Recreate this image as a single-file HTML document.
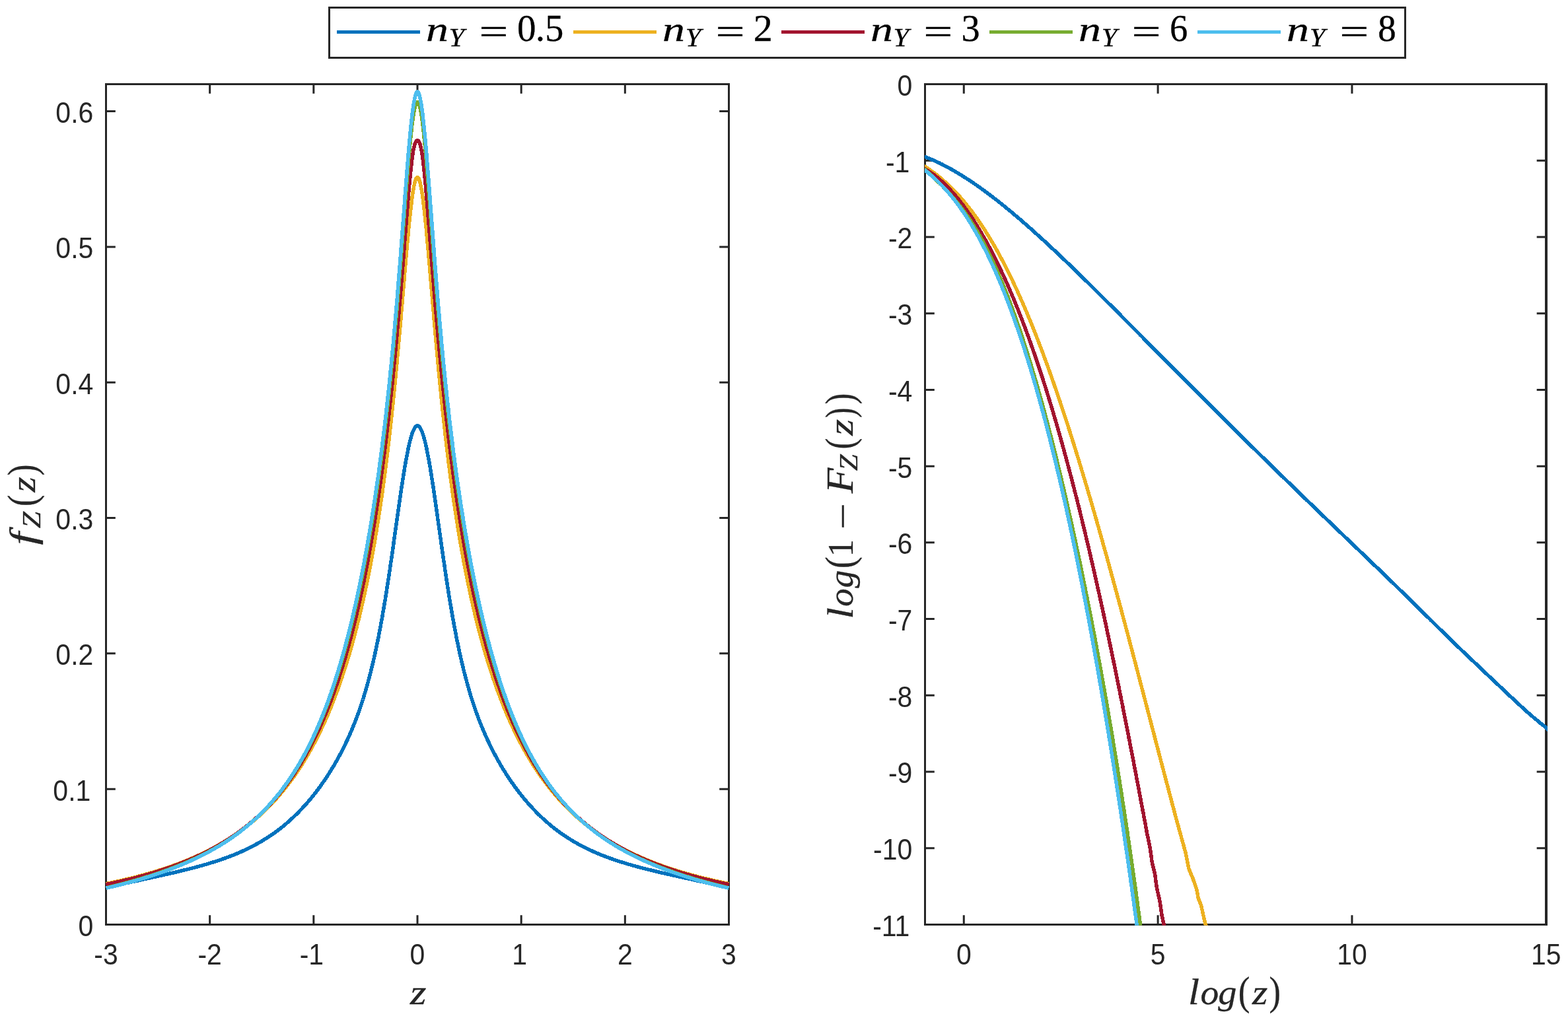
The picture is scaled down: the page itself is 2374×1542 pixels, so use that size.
<!DOCTYPE html>
<html lang="en"><head><meta charset="utf-8"><title>Figure</title>
<style>html,body{margin:0;padding:0;background:#fff}svg{display:block}text{font-family:"Liberation Sans",sans-serif;fill:#262626}.m{font-family:"Liberation Serif",serif;fill:#000}</style></head>
<body>
<svg xmlns="http://www.w3.org/2000/svg" width="2374" height="1542" viewBox="0 0 2374 1542">
<rect width="2374" height="1542" fill="#fff"/>
<g stroke="#262626" stroke-width="3" fill="none" stroke-linecap="butt">
<path d="M160.5 126.0V1402.0M159.0 127.5H1105.0M159.0 1400.5H1105.0"/>
<path d="M1103.5 126.0V1402.0" stroke-width="3"/>
<path d="M317.67 1400.5v-14.3M317.67 127.5v14.3M474.83 1400.5v-14.3M474.83 127.5v14.3M632.00 1400.5v-14.3M632.00 127.5v14.3M789.17 1400.5v-14.3M789.17 127.5v14.3M946.33 1400.5v-14.3M946.33 127.5v14.3M160.5 1195.18h14.3M1103.5 1195.18h-14.3M160.5 989.85h14.3M1103.5 989.85h-14.3M160.5 784.53h14.3M1103.5 784.53h-14.3M160.5 579.21h14.3M1103.5 579.21h-14.3M160.5 373.89h14.3M1103.5 373.89h-14.3M160.5 168.56h14.3M1103.5 168.56h-14.3"/>
</g>
<g stroke="#262626" stroke-width="3" fill="none" stroke-linecap="butt">
<path d="M1400.5 126.0V1402.0M1399.0 127.5H2343.0M1399.0 1400.5H2343.0"/>
<path d="M2341.0 126.0V1402.0" stroke-width="4"/>
<path d="M1459.27 1400.5v-14.3M1459.27 127.5v14.3M1753.11 1400.5v-14.3M1753.11 127.5v14.3M2046.96 1400.5v-14.3M2046.96 127.5v14.3M1400.5 243.23h14.3M2341.0 243.23h-14.3M1400.5 358.95h14.3M2341.0 358.95h-14.3M1400.5 474.68h14.3M2341.0 474.68h-14.3M1400.5 590.41h14.3M2341.0 590.41h-14.3M1400.5 706.14h14.3M2341.0 706.14h-14.3M1400.5 821.86h14.3M2341.0 821.86h-14.3M1400.5 937.59h14.3M2341.0 937.59h-14.3M1400.5 1053.32h14.3M2341.0 1053.32h-14.3M1400.5 1169.05h14.3M2341.0 1169.05h-14.3M1400.5 1284.77h14.3M2341.0 1284.77h-14.3"/>
</g>
<clipPath id="cl"><rect x="159.9" y="127.5" width="944.2" height="1274.3"/></clipPath>
<clipPath id="cr"><rect x="1399.9" y="127.5" width="943.0000000000002" height="1274.3"/></clipPath>
<g fill="none" stroke-width="5.5" stroke-linejoin="round" shape-rendering="crispEdges" clip-path="url(#cl)">
<path d="M160.5 1344.7L162.5 1344.3L164.4 1343.8L166.4 1343.4L168.4 1342.9L170.3 1342.5L172.3 1342.0L174.3 1341.6L176.2 1341.1L178.2 1340.7L180.1 1340.2L182.1 1339.8L184.1 1339.4L186.0 1338.9L188.0 1338.5L190.0 1338.0L191.9 1337.6L193.9 1337.2L195.9 1336.7L197.8 1336.3L199.8 1335.8L201.8 1335.4L203.7 1335.0L205.7 1334.5L207.6 1334.1L209.6 1333.7L211.6 1333.2L213.5 1332.8L215.5 1332.4L217.5 1331.9L219.4 1331.5L221.4 1331.1L223.4 1330.7L225.3 1330.2L227.3 1329.8L229.3 1329.4L231.2 1328.9L233.2 1328.5L235.2 1328.1L237.1 1327.6L239.1 1327.2L241.0 1326.7L243.0 1326.3L245.0 1325.9L246.9 1325.4L248.9 1325.0L250.9 1324.6L252.8 1324.1L254.8 1323.7L256.8 1323.2L258.7 1322.8L260.7 1322.3L262.7 1321.9L264.6 1321.4L266.6 1320.9L268.6 1320.5L270.5 1320.0L272.5 1319.5L274.4 1319.1L276.4 1318.6L278.4 1318.1L280.3 1317.6L282.3 1317.2L284.3 1316.7L286.2 1316.2L288.2 1315.7L290.2 1315.2L292.1 1314.7L294.1 1314.2L296.1 1313.6L298.0 1313.1L300.0 1312.6L301.9 1312.0L303.9 1311.5L305.9 1311.0L307.8 1310.4L309.8 1309.8L311.8 1309.3L313.7 1308.7L315.7 1308.1L317.7 1307.5L319.6 1306.9L321.6 1306.3L323.6 1305.7L325.5 1305.1L327.5 1304.4L329.5 1303.8L331.4 1303.2L333.4 1302.5L335.3 1301.8L337.3 1301.1L339.3 1300.4L341.2 1299.7L343.2 1299.0L345.2 1298.3L347.1 1297.6L349.1 1296.8L351.1 1296.0L353.0 1295.3L355.0 1294.5L357.0 1293.7L358.9 1292.8L360.9 1292.0L362.9 1291.2L364.8 1290.3L366.8 1289.4L368.7 1288.5L370.7 1287.6L372.7 1286.7L374.6 1285.7L376.6 1284.8L378.6 1283.8L380.5 1282.8L382.5 1281.8L384.5 1280.8L386.4 1279.7L388.4 1278.6L390.4 1277.5L392.3 1276.4L394.3 1275.3L396.2 1274.1L398.2 1272.9L400.2 1271.7L402.1 1270.5L404.1 1269.3L406.1 1268.0L408.0 1266.7L410.0 1265.4L412.0 1264.0L413.9 1262.7L415.9 1261.3L417.9 1259.8L419.8 1258.4L421.8 1256.9L423.8 1255.4L425.7 1253.8L427.7 1252.3L429.6 1250.7L431.6 1249.0L433.6 1247.4L435.5 1245.7L437.5 1244.0L439.5 1242.2L441.4 1240.4L443.4 1238.6L445.4 1236.7L447.3 1234.8L449.3 1232.9L451.3 1230.9L453.2 1228.9L455.2 1226.9L457.2 1224.8L459.1 1222.7L461.1 1220.6L463.0 1218.4L465.0 1216.1L467.0 1213.9L468.9 1211.5L470.9 1209.2L472.9 1206.8L474.8 1204.3L475.2 1203.8L475.6 1203.3L476.0 1202.8L476.4 1202.3L476.8 1201.8L477.2 1201.3L477.6 1200.8L478.0 1200.3L478.4 1199.8L478.8 1199.3L479.2 1198.8L479.5 1198.3L479.9 1197.7L480.3 1197.2L480.7 1196.7L481.1 1196.2L481.5 1195.7L481.9 1195.1L482.3 1194.6L482.7 1194.1L483.1 1193.5L483.5 1193.0L483.9 1192.5L484.3 1191.9L484.7 1191.4L485.0 1190.9L485.4 1190.3L485.8 1189.8L486.2 1189.2L486.6 1188.7L487.0 1188.1L487.4 1187.6L487.8 1187.0L488.2 1186.4L488.6 1185.9L489.0 1185.3L489.4 1184.7L489.8 1184.2L490.2 1183.6L490.6 1183.0L490.9 1182.5L491.3 1181.9L491.7 1181.3L492.1 1180.7L492.5 1180.1L492.9 1179.6L493.3 1179.0L493.7 1178.4L494.1 1177.8L494.5 1177.2L494.9 1176.6L495.3 1176.0L495.7 1175.4L496.1 1174.8L496.4 1174.2L496.8 1173.6L497.2 1173.0L497.6 1172.4L498.0 1171.8L498.4 1171.1L498.8 1170.5L499.2 1169.9L499.6 1169.3L500.0 1168.6L500.4 1168.0L500.8 1167.4L501.2 1166.7L501.6 1166.1L501.9 1165.5L502.3 1164.8L502.7 1164.2L503.1 1163.5L503.5 1162.9L503.9 1162.2L504.3 1161.6L504.7 1160.9L505.1 1160.3L505.5 1159.6L505.9 1158.9L506.3 1158.3L506.7 1157.6L507.1 1156.9L507.4 1156.2L507.8 1155.6L508.2 1154.9L508.6 1154.2L509.0 1153.5L509.4 1152.8L509.8 1152.1L510.2 1151.4L510.6 1150.7L511.0 1150.0L511.4 1149.3L511.8 1148.6L512.2 1147.9L512.6 1147.2L512.9 1146.4L513.3 1145.7L513.7 1145.0L514.1 1144.3L514.5 1143.5L514.9 1142.8L515.3 1142.0L515.7 1141.3L516.1 1140.6L516.5 1139.8L516.9 1139.1L517.3 1138.3L517.7 1137.5L518.1 1136.8L518.4 1136.0L518.8 1135.2L519.2 1134.5L519.6 1133.7L520.0 1132.9L520.4 1132.1L520.8 1131.3L521.2 1130.5L521.6 1129.7L522.0 1128.9L522.4 1128.1L522.8 1127.3L523.2 1126.5L523.6 1125.7L523.9 1124.8L524.3 1124.0L524.7 1123.2L525.1 1122.3L525.5 1121.5L525.9 1120.7L526.3 1119.8L526.7 1119.0L527.1 1118.1L527.5 1117.2L527.9 1116.4L528.3 1115.5L528.7 1114.6L529.1 1113.7L529.4 1112.8L529.8 1112.0L530.2 1111.1L530.6 1110.2L531.0 1109.2L531.4 1108.3L531.8 1107.4L532.2 1106.5L532.6 1105.6L533.0 1104.6L533.4 1103.7L533.8 1102.7L534.2 1101.8L534.6 1100.8L534.9 1099.9L535.3 1098.9L535.7 1097.9L536.1 1096.9L536.5 1096.0L536.9 1095.0L537.3 1094.0L537.7 1093.0L538.1 1091.9L538.5 1090.9L538.9 1089.9L539.3 1088.9L539.7 1087.8L540.1 1086.8L540.5 1085.7L540.8 1084.7L541.2 1083.6L541.6 1082.5L542.0 1081.5L542.4 1080.4L542.8 1079.3L543.2 1078.2L543.6 1077.1L544.0 1075.9L544.4 1074.8L544.8 1073.7L545.2 1072.6L545.6 1071.4L546.0 1070.2L546.3 1069.1L546.7 1067.9L547.1 1066.7L547.5 1065.5L547.9 1064.3L548.3 1063.1L548.7 1061.9L549.1 1060.7L549.5 1059.5L549.9 1058.2L550.3 1057.0L550.7 1055.7L551.1 1054.4L551.5 1053.1L551.8 1051.9L552.2 1050.6L552.6 1049.2L553.0 1047.9L553.4 1046.6L553.8 1045.3L554.2 1043.9L554.6 1042.5L555.0 1041.2L555.4 1039.8L555.8 1038.4L556.2 1037.0L556.6 1035.6L557.0 1034.1L557.3 1032.7L557.7 1031.3L558.1 1029.8L558.5 1028.3L558.9 1026.8L559.3 1025.3L559.7 1023.8L560.1 1022.3L560.5 1020.8L560.9 1019.2L561.3 1017.7L561.7 1016.1L562.1 1014.5L562.5 1012.9L562.8 1011.3L563.2 1009.7L563.6 1008.1L564.0 1006.4L564.4 1004.8L564.8 1003.1L565.2 1001.4L565.6 999.7L566.0 998.0L566.4 996.3L566.8 994.5L567.2 992.8L567.6 991.0L568.0 989.2L568.3 987.4L568.7 985.6L569.1 983.8L569.5 981.9L569.9 980.0L570.3 978.2L570.7 976.3L571.1 974.4L571.5 972.5L571.9 970.5L572.3 968.6L572.7 966.6L573.1 964.6L573.5 962.6L573.8 960.6L574.2 958.6L574.6 956.5L575.0 954.5L575.4 952.4L575.8 950.3L576.2 948.2L576.6 946.1L577.0 943.9L577.4 941.8L577.8 939.6L578.2 937.4L578.6 935.2L579.0 933.0L579.3 930.7L579.7 928.5L580.1 926.2L580.5 923.9L580.9 921.6L581.3 919.3L581.7 917.0L582.1 914.6L582.5 912.3L582.9 909.9L583.3 907.5L583.7 905.1L584.1 902.7L584.5 900.2L584.9 897.8L585.2 895.3L585.6 892.8L586.0 890.3L586.4 887.8L586.8 885.2L587.2 882.7L587.6 880.1L588.0 877.6L588.4 875.0L588.8 872.4L589.2 869.8L589.6 867.2L590.0 864.5L590.4 861.9L590.7 859.2L591.1 856.6L591.5 853.9L591.9 851.2L592.3 848.5L592.7 845.8L593.1 843.1L593.5 840.3L593.9 837.6L594.3 834.8L594.7 832.1L595.1 829.3L595.5 826.6L595.9 823.8L596.2 821.0L596.6 818.2L597.0 815.4L597.4 812.6L597.8 809.8L598.2 807.0L598.6 804.2L599.0 801.4L599.4 798.6L599.8 795.8L600.2 793.0L600.6 790.2L601.0 787.4L601.4 784.6L601.7 781.8L602.1 779.0L602.5 776.3L602.9 773.5L603.3 770.7L603.7 767.9L604.1 765.2L604.5 762.4L604.9 759.7L605.3 757.0L605.7 754.3L606.1 751.5L606.5 748.9L606.9 746.2L607.2 743.5L607.6 740.9L608.0 738.2L608.4 735.6L608.8 733.0L609.2 730.5L609.6 727.9L610.0 725.4L610.4 722.9L610.8 720.4L611.2 717.9L611.6 715.5L612.0 713.1L612.4 710.7L612.7 708.3L613.1 706.0L613.5 703.7L613.9 701.5L614.3 699.2L614.7 697.0L615.1 694.9L615.5 692.7L615.9 690.6L616.3 688.6L616.7 686.6L617.1 684.6L617.5 682.6L617.9 680.7L618.2 678.9L618.6 677.1L619.0 675.3L619.4 673.6L619.8 671.9L620.2 670.2L620.6 668.6L621.0 667.1L621.4 665.6L621.8 664.1L622.2 662.7L622.6 661.4L623.0 660.0L623.4 658.8L623.7 657.6L624.1 656.4L624.5 655.3L624.9 654.3L625.3 653.3L625.7 652.4L626.1 651.5L626.5 650.6L626.9 649.9L627.3 649.2L627.7 648.5L628.1 647.9L628.5 647.3L628.9 646.8L629.2 646.4L629.6 646.0L630.0 645.7L630.4 645.4L630.8 645.2L631.2 645.1L631.6 645.0L632.0 645.0L632.4 645.0L632.8 645.1L633.2 645.2L633.6 645.4L634.0 645.7L634.4 646.0L634.8 646.4L635.1 646.8L635.5 647.3L635.9 647.9L636.3 648.5L636.7 649.2L637.1 649.9L637.5 650.6L637.9 651.5L638.3 652.4L638.7 653.3L639.1 654.3L639.5 655.3L639.9 656.4L640.3 657.6L640.6 658.8L641.0 660.0L641.4 661.4L641.8 662.7L642.2 664.1L642.6 665.6L643.0 667.1L643.4 668.6L643.8 670.2L644.2 671.9L644.6 673.6L645.0 675.3L645.4 677.1L645.8 678.9L646.1 680.7L646.5 682.6L646.9 684.6L647.3 686.6L647.7 688.6L648.1 690.6L648.5 692.7L648.9 694.9L649.3 697.0L649.7 699.2L650.1 701.5L650.5 703.7L650.9 706.0L651.3 708.3L651.6 710.7L652.0 713.1L652.4 715.5L652.8 717.9L653.2 720.4L653.6 722.9L654.0 725.4L654.4 727.9L654.8 730.5L655.2 733.0L655.6 735.6L656.0 738.2L656.4 740.9L656.8 743.5L657.1 746.2L657.5 748.9L657.9 751.5L658.3 754.3L658.7 757.0L659.1 759.7L659.5 762.4L659.9 765.2L660.3 767.9L660.7 770.7L661.1 773.5L661.5 776.3L661.9 779.0L662.3 781.8L662.6 784.6L663.0 787.4L663.4 790.2L663.8 793.0L664.2 795.8L664.6 798.6L665.0 801.4L665.4 804.2L665.8 807.0L666.2 809.8L666.6 812.6L667.0 815.4L667.4 818.2L667.8 821.0L668.1 823.8L668.5 826.6L668.9 829.3L669.3 832.1L669.7 834.8L670.1 837.6L670.5 840.3L670.9 843.1L671.3 845.8L671.7 848.5L672.1 851.2L672.5 853.9L672.9 856.6L673.3 859.2L673.6 861.9L674.0 864.5L674.4 867.2L674.8 869.8L675.2 872.4L675.6 875.0L676.0 877.6L676.4 880.1L676.8 882.7L677.2 885.2L677.6 887.8L678.0 890.3L678.4 892.8L678.8 895.3L679.1 897.8L679.5 900.2L679.9 902.7L680.3 905.1L680.7 907.5L681.1 909.9L681.5 912.3L681.9 914.6L682.3 917.0L682.7 919.3L683.1 921.6L683.5 923.9L683.9 926.2L684.3 928.5L684.7 930.7L685.0 933.0L685.4 935.2L685.8 937.4L686.2 939.6L686.6 941.8L687.0 943.9L687.4 946.1L687.8 948.2L688.2 950.3L688.6 952.4L689.0 954.5L689.4 956.5L689.8 958.6L690.2 960.6L690.5 962.6L690.9 964.6L691.3 966.6L691.7 968.6L692.1 970.5L692.5 972.5L692.9 974.4L693.3 976.3L693.7 978.2L694.1 980.0L694.5 981.9L694.9 983.8L695.3 985.6L695.7 987.4L696.0 989.2L696.4 991.0L696.8 992.8L697.2 994.5L697.6 996.3L698.0 998.0L698.4 999.7L698.8 1001.4L699.2 1003.1L699.6 1004.8L700.0 1006.4L700.4 1008.1L700.8 1009.7L701.2 1011.3L701.5 1012.9L701.9 1014.5L702.3 1016.1L702.7 1017.7L703.1 1019.2L703.5 1020.8L703.9 1022.3L704.3 1023.8L704.7 1025.3L705.1 1026.8L705.5 1028.3L705.9 1029.8L706.3 1031.3L706.7 1032.7L707.0 1034.1L707.4 1035.6L707.8 1037.0L708.2 1038.4L708.6 1039.8L709.0 1041.2L709.4 1042.5L709.8 1043.9L710.2 1045.3L710.6 1046.6L711.0 1047.9L711.4 1049.2L711.8 1050.6L712.2 1051.9L712.5 1053.1L712.9 1054.4L713.3 1055.7L713.7 1057.0L714.1 1058.2L714.5 1059.5L714.9 1060.7L715.3 1061.9L715.7 1063.1L716.1 1064.3L716.5 1065.5L716.9 1066.7L717.3 1067.9L717.7 1069.1L718.0 1070.2L718.4 1071.4L718.8 1072.6L719.2 1073.7L719.6 1074.8L720.0 1075.9L720.4 1077.1L720.8 1078.2L721.2 1079.3L721.6 1080.4L722.0 1081.5L722.4 1082.5L722.8 1083.6L723.2 1084.7L723.5 1085.7L723.9 1086.8L724.3 1087.8L724.7 1088.9L725.1 1089.9L725.5 1090.9L725.9 1091.9L726.3 1093.0L726.7 1094.0L727.1 1095.0L727.5 1096.0L727.9 1096.9L728.3 1097.9L728.7 1098.9L729.1 1099.9L729.4 1100.8L729.8 1101.8L730.2 1102.7L730.6 1103.7L731.0 1104.6L731.4 1105.6L731.8 1106.5L732.2 1107.4L732.6 1108.3L733.0 1109.2L733.4 1110.2L733.8 1111.1L734.2 1112.0L734.6 1112.8L734.9 1113.7L735.3 1114.6L735.7 1115.5L736.1 1116.4L736.5 1117.2L736.9 1118.1L737.3 1119.0L737.7 1119.8L738.1 1120.7L738.5 1121.5L738.9 1122.3L739.3 1123.2L739.7 1124.0L740.1 1124.8L740.4 1125.7L740.8 1126.5L741.2 1127.3L741.6 1128.1L742.0 1128.9L742.4 1129.7L742.8 1130.5L743.2 1131.3L743.6 1132.1L744.0 1132.9L744.4 1133.7L744.8 1134.5L745.2 1135.2L745.6 1136.0L745.9 1136.8L746.3 1137.5L746.7 1138.3L747.1 1139.1L747.5 1139.8L747.9 1140.6L748.3 1141.3L748.7 1142.0L749.1 1142.8L749.5 1143.5L749.9 1144.3L750.3 1145.0L750.7 1145.7L751.1 1146.4L751.4 1147.2L751.8 1147.9L752.2 1148.6L752.6 1149.3L753.0 1150.0L753.4 1150.7L753.8 1151.4L754.2 1152.1L754.6 1152.8L755.0 1153.5L755.4 1154.2L755.8 1154.9L756.2 1155.6L756.6 1156.2L756.9 1156.9L757.3 1157.6L757.7 1158.3L758.1 1158.9L758.5 1159.6L758.9 1160.3L759.3 1160.9L759.7 1161.6L760.1 1162.2L760.5 1162.9L760.9 1163.5L761.3 1164.2L761.7 1164.8L762.1 1165.5L762.4 1166.1L762.8 1166.7L763.2 1167.4L763.6 1168.0L764.0 1168.6L764.4 1169.3L764.8 1169.9L765.2 1170.5L765.6 1171.1L766.0 1171.8L766.4 1172.4L766.8 1173.0L767.2 1173.6L767.6 1174.2L767.9 1174.8L768.3 1175.4L768.7 1176.0L769.1 1176.6L769.5 1177.2L769.9 1177.8L770.3 1178.4L770.7 1179.0L771.1 1179.6L771.5 1180.1L771.9 1180.7L772.3 1181.3L772.7 1181.9L773.1 1182.5L773.5 1183.0L773.8 1183.6L774.2 1184.2L774.6 1184.7L775.0 1185.3L775.4 1185.9L775.8 1186.4L776.2 1187.0L776.6 1187.6L777.0 1188.1L777.4 1188.7L777.8 1189.2L778.2 1189.8L778.6 1190.3L779.0 1190.9L779.3 1191.4L779.7 1191.9L780.1 1192.5L780.5 1193.0L780.9 1193.5L781.3 1194.1L781.7 1194.6L782.1 1195.1L782.5 1195.7L782.9 1196.2L783.3 1196.7L783.7 1197.2L784.1 1197.7L784.5 1198.3L784.8 1198.8L785.2 1199.3L785.6 1199.8L786.0 1200.3L786.4 1200.8L786.8 1201.3L787.2 1201.8L787.6 1202.3L788.0 1202.8L788.4 1203.3L788.8 1203.8L789.2 1204.3L791.1 1206.8L793.1 1209.2L795.1 1211.5L797.0 1213.9L799.0 1216.1L801.0 1218.4L802.9 1220.6L804.9 1222.7L806.8 1224.8L808.8 1226.9L810.8 1228.9L812.7 1230.9L814.7 1232.9L816.7 1234.8L818.6 1236.7L820.6 1238.6L822.6 1240.4L824.5 1242.2L826.5 1244.0L828.5 1245.7L830.4 1247.4L832.4 1249.0L834.4 1250.7L836.3 1252.3L838.3 1253.8L840.2 1255.4L842.2 1256.9L844.2 1258.4L846.1 1259.8L848.1 1261.3L850.1 1262.7L852.0 1264.0L854.0 1265.4L856.0 1266.7L857.9 1268.0L859.9 1269.3L861.9 1270.5L863.8 1271.7L865.8 1272.9L867.8 1274.1L869.7 1275.3L871.7 1276.4L873.6 1277.5L875.6 1278.6L877.6 1279.7L879.5 1280.8L881.5 1281.8L883.5 1282.8L885.4 1283.8L887.4 1284.8L889.4 1285.7L891.3 1286.7L893.3 1287.6L895.3 1288.5L897.2 1289.4L899.2 1290.3L901.1 1291.2L903.1 1292.0L905.1 1292.8L907.0 1293.7L909.0 1294.5L911.0 1295.3L912.9 1296.0L914.9 1296.8L916.9 1297.6L918.8 1298.3L920.8 1299.0L922.8 1299.7L924.7 1300.4L926.7 1301.1L928.7 1301.8L930.6 1302.5L932.6 1303.2L934.5 1303.8L936.5 1304.4L938.5 1305.1L940.4 1305.7L942.4 1306.3L944.4 1306.9L946.3 1307.5L948.3 1308.1L950.3 1308.7L952.2 1309.3L954.2 1309.8L956.2 1310.4L958.1 1311.0L960.1 1311.5L962.0 1312.0L964.0 1312.6L966.0 1313.1L967.9 1313.6L969.9 1314.2L971.9 1314.7L973.8 1315.2L975.8 1315.7L977.8 1316.2L979.7 1316.7L981.7 1317.2L983.7 1317.6L985.6 1318.1L987.6 1318.6L989.6 1319.1L991.5 1319.5L993.5 1320.0L995.4 1320.5L997.4 1320.9L999.4 1321.4L1001.3 1321.9L1003.3 1322.3L1005.3 1322.8L1007.2 1323.2L1009.2 1323.7L1011.2 1324.1L1013.1 1324.6L1015.1 1325.0L1017.1 1325.4L1019.0 1325.9L1021.0 1326.3L1023.0 1326.7L1024.9 1327.2L1026.9 1327.6L1028.8 1328.1L1030.8 1328.5L1032.8 1328.9L1034.7 1329.4L1036.7 1329.8L1038.7 1330.2L1040.6 1330.7L1042.6 1331.1L1044.6 1331.5L1046.5 1331.9L1048.5 1332.4L1050.5 1332.8L1052.4 1333.2L1054.4 1333.7L1056.3 1334.1L1058.3 1334.5L1060.3 1335.0L1062.2 1335.4L1064.2 1335.8L1066.2 1336.3L1068.1 1336.7L1070.1 1337.2L1072.1 1337.6L1074.0 1338.0L1076.0 1338.5L1078.0 1338.9L1079.9 1339.4L1081.9 1339.8L1083.9 1340.2L1085.8 1340.7L1087.8 1341.1L1089.7 1341.6L1091.7 1342.0L1093.7 1342.5L1095.6 1342.9L1097.6 1343.4L1099.6 1343.8L1101.5 1344.3L1103.5 1344.7" stroke="#0072BD"/>
<path d="M160.5 1338.6L162.5 1338.2L164.4 1337.8L166.4 1337.4L168.4 1337.0L170.3 1336.6L172.3 1336.1L174.3 1335.7L176.2 1335.3L178.2 1334.9L180.1 1334.4L182.1 1334.0L184.1 1333.5L186.0 1333.1L188.0 1332.6L190.0 1332.2L191.9 1331.7L193.9 1331.2L195.9 1330.8L197.8 1330.3L199.8 1329.8L201.8 1329.3L203.7 1328.8L205.7 1328.3L207.6 1327.8L209.6 1327.3L211.6 1326.8L213.5 1326.3L215.5 1325.7L217.5 1325.2L219.4 1324.6L221.4 1324.1L223.4 1323.5L225.3 1323.0L227.3 1322.4L229.3 1321.8L231.2 1321.3L233.2 1320.7L235.2 1320.1L237.1 1319.5L239.1 1318.9L241.0 1318.2L243.0 1317.6L245.0 1317.0L246.9 1316.4L248.9 1315.7L250.9 1315.1L252.8 1314.4L254.8 1313.7L256.8 1313.0L258.7 1312.4L260.7 1311.7L262.7 1311.0L264.6 1310.2L266.6 1309.5L268.6 1308.8L270.5 1308.1L272.5 1307.3L274.4 1306.6L276.4 1305.8L278.4 1305.0L280.3 1304.2L282.3 1303.4L284.3 1302.6L286.2 1301.8L288.2 1301.0L290.2 1300.1L292.1 1299.3L294.1 1298.4L296.1 1297.6L298.0 1296.7L300.0 1295.8L301.9 1294.9L303.9 1294.0L305.9 1293.0L307.8 1292.1L309.8 1291.1L311.8 1290.2L313.7 1289.2L315.7 1288.2L317.7 1287.2L319.6 1286.2L321.6 1285.1L323.6 1284.1L325.5 1283.0L327.5 1281.9L329.5 1280.8L331.4 1279.7L333.4 1278.6L335.3 1277.5L337.3 1276.3L339.3 1275.1L341.2 1273.9L343.2 1272.7L345.2 1271.5L347.1 1270.3L349.1 1269.0L351.1 1267.7L353.0 1266.4L355.0 1265.1L357.0 1263.8L358.9 1262.4L360.9 1261.0L362.9 1259.7L364.8 1258.2L366.8 1256.8L368.7 1255.3L370.7 1253.9L372.7 1252.4L374.6 1250.8L376.6 1249.3L378.6 1247.7L380.5 1246.1L382.5 1244.5L384.5 1242.8L386.4 1241.2L388.4 1239.5L390.4 1237.7L392.3 1236.0L394.3 1234.2L396.2 1232.4L398.2 1230.5L400.2 1228.7L402.1 1226.8L404.1 1224.8L406.1 1222.9L408.0 1220.9L410.0 1218.8L412.0 1216.8L413.9 1214.7L415.9 1212.5L417.9 1210.4L419.8 1208.2L421.8 1205.9L423.8 1203.7L425.7 1201.3L427.7 1199.0L429.6 1196.6L431.6 1194.1L433.6 1191.6L435.5 1189.1L437.5 1186.5L439.5 1183.9L441.4 1181.3L443.4 1178.5L445.4 1175.8L447.3 1173.0L449.3 1170.1L451.3 1167.2L453.2 1164.2L455.2 1161.2L457.2 1158.1L459.1 1155.0L461.1 1151.8L463.0 1148.5L465.0 1145.2L467.0 1141.8L468.9 1138.4L470.9 1134.9L472.9 1131.3L474.8 1127.6L475.2 1126.9L475.6 1126.1L476.0 1125.4L476.4 1124.6L476.8 1123.9L477.2 1123.1L477.6 1122.4L478.0 1121.6L478.4 1120.9L478.8 1120.1L479.2 1119.3L479.5 1118.6L479.9 1117.8L480.3 1117.0L480.7 1116.2L481.1 1115.4L481.5 1114.7L481.9 1113.9L482.3 1113.1L482.7 1112.3L483.1 1111.5L483.5 1110.7L483.9 1109.9L484.3 1109.1L484.7 1108.2L485.0 1107.4L485.4 1106.6L485.8 1105.8L486.2 1105.0L486.6 1104.1L487.0 1103.3L487.4 1102.5L487.8 1101.6L488.2 1100.8L488.6 1099.9L489.0 1099.1L489.4 1098.2L489.8 1097.4L490.2 1096.5L490.6 1095.6L490.9 1094.8L491.3 1093.9L491.7 1093.0L492.1 1092.2L492.5 1091.3L492.9 1090.4L493.3 1089.5L493.7 1088.6L494.1 1087.7L494.5 1086.8L494.9 1085.9L495.3 1085.0L495.7 1084.1L496.1 1083.2L496.4 1082.3L496.8 1081.3L497.2 1080.4L497.6 1079.5L498.0 1078.5L498.4 1077.6L498.8 1076.7L499.2 1075.7L499.6 1074.8L500.0 1073.8L500.4 1072.8L500.8 1071.9L501.2 1070.9L501.6 1069.9L501.9 1069.0L502.3 1068.0L502.7 1067.0L503.1 1066.0L503.5 1065.0L503.9 1064.0L504.3 1063.0L504.7 1062.0L505.1 1061.0L505.5 1060.0L505.9 1059.0L506.3 1058.0L506.7 1056.9L507.1 1055.9L507.4 1054.9L507.8 1053.8L508.2 1052.8L508.6 1051.7L509.0 1050.7L509.4 1049.6L509.8 1048.6L510.2 1047.5L510.6 1046.4L511.0 1045.4L511.4 1044.3L511.8 1043.2L512.2 1042.1L512.6 1041.0L512.9 1039.9L513.3 1038.8L513.7 1037.7L514.1 1036.6L514.5 1035.4L514.9 1034.3L515.3 1033.2L515.7 1032.0L516.1 1030.9L516.5 1029.8L516.9 1028.6L517.3 1027.4L517.7 1026.3L518.1 1025.1L518.4 1023.9L518.8 1022.8L519.2 1021.6L519.6 1020.4L520.0 1019.2L520.4 1018.0L520.8 1016.8L521.2 1015.6L521.6 1014.4L522.0 1013.1L522.4 1011.9L522.8 1010.7L523.2 1009.4L523.6 1008.2L523.9 1006.9L524.3 1005.7L524.7 1004.4L525.1 1003.1L525.5 1001.9L525.9 1000.6L526.3 999.3L526.7 998.0L527.1 996.7L527.5 995.4L527.9 994.1L528.3 992.8L528.7 991.4L529.1 990.1L529.4 988.8L529.8 987.4L530.2 986.1L530.6 984.7L531.0 983.3L531.4 982.0L531.8 980.6L532.2 979.2L532.6 977.8L533.0 976.4L533.4 975.0L533.8 973.6L534.2 972.2L534.6 970.8L534.9 969.3L535.3 967.9L535.7 966.4L536.1 965.0L536.5 963.5L536.9 962.0L537.3 960.6L537.7 959.1L538.1 957.6L538.5 956.1L538.9 954.6L539.3 953.1L539.7 951.5L540.1 950.0L540.5 948.5L540.8 946.9L541.2 945.4L541.6 943.8L542.0 942.2L542.4 940.7L542.8 939.1L543.2 937.5L543.6 935.9L544.0 934.2L544.4 932.6L544.8 931.0L545.2 929.4L545.6 927.7L546.0 926.0L546.3 924.4L546.7 922.7L547.1 921.0L547.5 919.3L547.9 917.6L548.3 915.9L548.7 914.2L549.1 912.5L549.5 910.7L549.9 909.0L550.3 907.2L550.7 905.4L551.1 903.6L551.5 901.9L551.8 900.1L552.2 898.2L552.6 896.4L553.0 894.6L553.4 892.8L553.8 890.9L554.2 889.0L554.6 887.2L555.0 885.3L555.4 883.4L555.8 881.5L556.2 879.6L556.6 877.6L557.0 875.7L557.3 873.7L557.7 871.8L558.1 869.8L558.5 867.8L558.9 865.8L559.3 863.8L559.7 861.8L560.1 859.7L560.5 857.7L560.9 855.6L561.3 853.6L561.7 851.5L562.1 849.4L562.5 847.3L562.8 845.1L563.2 843.0L563.6 840.8L564.0 838.7L564.4 836.5L564.8 834.3L565.2 832.1L565.6 829.9L566.0 827.6L566.4 825.4L566.8 823.1L567.2 820.8L567.6 818.5L568.0 816.2L568.3 813.9L568.7 811.6L569.1 809.2L569.5 806.8L569.9 804.5L570.3 802.1L570.7 799.6L571.1 797.2L571.5 794.7L571.9 792.3L572.3 789.8L572.7 787.3L573.1 784.8L573.5 782.2L573.8 779.7L574.2 777.1L574.6 774.5L575.0 771.9L575.4 769.3L575.8 766.6L576.2 764.0L576.6 761.3L577.0 758.6L577.4 755.8L577.8 753.1L578.2 750.3L578.6 747.6L579.0 744.8L579.3 741.9L579.7 739.1L580.1 736.2L580.5 733.3L580.9 730.4L581.3 727.5L581.7 724.6L582.1 721.6L582.5 718.6L582.9 715.6L583.3 712.5L583.7 709.5L584.1 706.4L584.5 703.3L584.9 700.1L585.2 697.0L585.6 693.8L586.0 690.6L586.4 687.4L586.8 684.1L587.2 680.8L587.6 677.5L588.0 674.2L588.4 670.9L588.8 667.5L589.2 664.1L589.6 660.6L590.0 657.2L590.4 653.7L590.7 650.2L591.1 646.6L591.5 643.1L591.9 639.5L592.3 635.9L592.7 632.2L593.1 628.5L593.5 624.8L593.9 621.1L594.3 617.4L594.7 613.6L595.1 609.8L595.5 605.9L595.9 602.0L596.2 598.1L596.6 594.2L597.0 590.3L597.4 586.3L597.8 582.3L598.2 578.2L598.6 574.2L599.0 570.1L599.4 566.0L599.8 561.8L600.2 557.6L600.6 553.4L601.0 549.2L601.4 544.9L601.7 540.7L602.1 536.4L602.5 532.0L602.9 527.7L603.3 523.3L603.7 518.9L604.1 514.5L604.5 510.0L604.9 505.6L605.3 501.1L605.7 496.6L606.1 492.1L606.5 487.5L606.9 483.0L607.2 478.4L607.6 473.8L608.0 469.2L608.4 464.6L608.8 460.0L609.2 455.4L609.6 450.7L610.0 446.1L610.4 441.5L610.8 436.8L611.2 432.2L611.6 427.6L612.0 422.9L612.4 418.3L612.7 413.7L613.1 409.1L613.5 404.5L613.9 400.0L614.3 395.4L614.7 390.9L615.1 386.4L615.5 382.0L615.9 377.5L616.3 373.1L616.7 368.8L617.1 364.5L617.5 360.2L617.9 356.0L618.2 351.8L618.6 347.7L619.0 343.7L619.4 339.7L619.8 335.8L620.2 332.0L620.6 328.2L621.0 324.5L621.4 320.9L621.8 317.4L622.2 314.0L622.6 310.7L623.0 307.5L623.4 304.3L623.7 301.3L624.1 298.4L624.5 295.6L624.9 293.0L625.3 290.4L625.7 288.0L626.1 285.7L626.5 283.6L626.9 281.5L627.3 279.7L627.7 277.9L628.1 276.3L628.5 274.9L628.9 273.6L629.2 272.4L629.6 271.4L630.0 270.5L630.4 269.8L630.8 269.3L631.2 268.9L631.6 268.7L632.0 268.6L632.4 268.7L632.8 268.9L633.2 269.3L633.6 269.8L634.0 270.5L634.4 271.4L634.8 272.4L635.1 273.6L635.5 274.9L635.9 276.3L636.3 277.9L636.7 279.7L637.1 281.5L637.5 283.6L637.9 285.7L638.3 288.0L638.7 290.4L639.1 293.0L639.5 295.6L639.9 298.4L640.3 301.3L640.6 304.3L641.0 307.5L641.4 310.7L641.8 314.0L642.2 317.4L642.6 320.9L643.0 324.5L643.4 328.2L643.8 332.0L644.2 335.8L644.6 339.7L645.0 343.7L645.4 347.7L645.8 351.8L646.1 356.0L646.5 360.2L646.9 364.5L647.3 368.8L647.7 373.1L648.1 377.5L648.5 382.0L648.9 386.4L649.3 390.9L649.7 395.4L650.1 400.0L650.5 404.5L650.9 409.1L651.3 413.7L651.6 418.3L652.0 422.9L652.4 427.6L652.8 432.2L653.2 436.8L653.6 441.5L654.0 446.1L654.4 450.7L654.8 455.4L655.2 460.0L655.6 464.6L656.0 469.2L656.4 473.8L656.8 478.4L657.1 483.0L657.5 487.5L657.9 492.1L658.3 496.6L658.7 501.1L659.1 505.6L659.5 510.0L659.9 514.5L660.3 518.9L660.7 523.3L661.1 527.7L661.5 532.0L661.9 536.4L662.3 540.7L662.6 544.9L663.0 549.2L663.4 553.4L663.8 557.6L664.2 561.8L664.6 566.0L665.0 570.1L665.4 574.2L665.8 578.2L666.2 582.3L666.6 586.3L667.0 590.3L667.4 594.2L667.8 598.1L668.1 602.0L668.5 605.9L668.9 609.8L669.3 613.6L669.7 617.4L670.1 621.1L670.5 624.8L670.9 628.5L671.3 632.2L671.7 635.9L672.1 639.5L672.5 643.1L672.9 646.6L673.3 650.2L673.6 653.7L674.0 657.2L674.4 660.6L674.8 664.1L675.2 667.5L675.6 670.9L676.0 674.2L676.4 677.5L676.8 680.8L677.2 684.1L677.6 687.4L678.0 690.6L678.4 693.8L678.8 697.0L679.1 700.1L679.5 703.3L679.9 706.4L680.3 709.5L680.7 712.5L681.1 715.6L681.5 718.6L681.9 721.6L682.3 724.6L682.7 727.5L683.1 730.4L683.5 733.3L683.9 736.2L684.3 739.1L684.7 741.9L685.0 744.8L685.4 747.6L685.8 750.3L686.2 753.1L686.6 755.8L687.0 758.6L687.4 761.3L687.8 764.0L688.2 766.6L688.6 769.3L689.0 771.9L689.4 774.5L689.8 777.1L690.2 779.7L690.5 782.2L690.9 784.8L691.3 787.3L691.7 789.8L692.1 792.3L692.5 794.7L692.9 797.2L693.3 799.6L693.7 802.1L694.1 804.5L694.5 806.8L694.9 809.2L695.3 811.6L695.7 813.9L696.0 816.2L696.4 818.5L696.8 820.8L697.2 823.1L697.6 825.4L698.0 827.6L698.4 829.9L698.8 832.1L699.2 834.3L699.6 836.5L700.0 838.7L700.4 840.8L700.8 843.0L701.2 845.1L701.5 847.3L701.9 849.4L702.3 851.5L702.7 853.6L703.1 855.6L703.5 857.7L703.9 859.7L704.3 861.8L704.7 863.8L705.1 865.8L705.5 867.8L705.9 869.8L706.3 871.8L706.7 873.7L707.0 875.7L707.4 877.6L707.8 879.6L708.2 881.5L708.6 883.4L709.0 885.3L709.4 887.2L709.8 889.0L710.2 890.9L710.6 892.8L711.0 894.6L711.4 896.4L711.8 898.2L712.2 900.1L712.5 901.9L712.9 903.6L713.3 905.4L713.7 907.2L714.1 909.0L714.5 910.7L714.9 912.5L715.3 914.2L715.7 915.9L716.1 917.6L716.5 919.3L716.9 921.0L717.3 922.7L717.7 924.4L718.0 926.0L718.4 927.7L718.8 929.4L719.2 931.0L719.6 932.6L720.0 934.2L720.4 935.9L720.8 937.5L721.2 939.1L721.6 940.7L722.0 942.2L722.4 943.8L722.8 945.4L723.2 946.9L723.5 948.5L723.9 950.0L724.3 951.5L724.7 953.1L725.1 954.6L725.5 956.1L725.9 957.6L726.3 959.1L726.7 960.6L727.1 962.0L727.5 963.5L727.9 965.0L728.3 966.4L728.7 967.9L729.1 969.3L729.4 970.8L729.8 972.2L730.2 973.6L730.6 975.0L731.0 976.4L731.4 977.8L731.8 979.2L732.2 980.6L732.6 982.0L733.0 983.3L733.4 984.7L733.8 986.1L734.2 987.4L734.6 988.8L734.9 990.1L735.3 991.4L735.7 992.8L736.1 994.1L736.5 995.4L736.9 996.7L737.3 998.0L737.7 999.3L738.1 1000.6L738.5 1001.9L738.9 1003.1L739.3 1004.4L739.7 1005.7L740.1 1006.9L740.4 1008.2L740.8 1009.4L741.2 1010.7L741.6 1011.9L742.0 1013.1L742.4 1014.4L742.8 1015.6L743.2 1016.8L743.6 1018.0L744.0 1019.2L744.4 1020.4L744.8 1021.6L745.2 1022.8L745.6 1023.9L745.9 1025.1L746.3 1026.3L746.7 1027.4L747.1 1028.6L747.5 1029.8L747.9 1030.9L748.3 1032.0L748.7 1033.2L749.1 1034.3L749.5 1035.4L749.9 1036.6L750.3 1037.7L750.7 1038.8L751.1 1039.9L751.4 1041.0L751.8 1042.1L752.2 1043.2L752.6 1044.3L753.0 1045.4L753.4 1046.4L753.8 1047.5L754.2 1048.6L754.6 1049.6L755.0 1050.7L755.4 1051.7L755.8 1052.8L756.2 1053.8L756.6 1054.9L756.9 1055.9L757.3 1056.9L757.7 1058.0L758.1 1059.0L758.5 1060.0L758.9 1061.0L759.3 1062.0L759.7 1063.0L760.1 1064.0L760.5 1065.0L760.9 1066.0L761.3 1067.0L761.7 1068.0L762.1 1069.0L762.4 1069.9L762.8 1070.9L763.2 1071.9L763.6 1072.8L764.0 1073.8L764.4 1074.8L764.8 1075.7L765.2 1076.7L765.6 1077.6L766.0 1078.5L766.4 1079.5L766.8 1080.4L767.2 1081.3L767.6 1082.3L767.9 1083.2L768.3 1084.1L768.7 1085.0L769.1 1085.9L769.5 1086.8L769.9 1087.7L770.3 1088.6L770.7 1089.5L771.1 1090.4L771.5 1091.3L771.9 1092.2L772.3 1093.0L772.7 1093.9L773.1 1094.8L773.5 1095.6L773.8 1096.5L774.2 1097.4L774.6 1098.2L775.0 1099.1L775.4 1099.9L775.8 1100.8L776.2 1101.6L776.6 1102.5L777.0 1103.3L777.4 1104.1L777.8 1105.0L778.2 1105.8L778.6 1106.6L779.0 1107.4L779.3 1108.2L779.7 1109.1L780.1 1109.9L780.5 1110.7L780.9 1111.5L781.3 1112.3L781.7 1113.1L782.1 1113.9L782.5 1114.7L782.9 1115.4L783.3 1116.2L783.7 1117.0L784.1 1117.8L784.5 1118.6L784.8 1119.3L785.2 1120.1L785.6 1120.9L786.0 1121.6L786.4 1122.4L786.8 1123.1L787.2 1123.9L787.6 1124.6L788.0 1125.4L788.4 1126.1L788.8 1126.9L789.2 1127.6L791.1 1131.3L793.1 1134.9L795.1 1138.4L797.0 1141.8L799.0 1145.2L801.0 1148.5L802.9 1151.8L804.9 1155.0L806.8 1158.1L808.8 1161.2L810.8 1164.2L812.7 1167.2L814.7 1170.1L816.7 1173.0L818.6 1175.8L820.6 1178.5L822.6 1181.3L824.5 1183.9L826.5 1186.5L828.5 1189.1L830.4 1191.6L832.4 1194.1L834.4 1196.6L836.3 1199.0L838.3 1201.3L840.2 1203.7L842.2 1205.9L844.2 1208.2L846.1 1210.4L848.1 1212.5L850.1 1214.7L852.0 1216.8L854.0 1218.8L856.0 1220.9L857.9 1222.9L859.9 1224.8L861.9 1226.8L863.8 1228.7L865.8 1230.5L867.8 1232.4L869.7 1234.2L871.7 1236.0L873.6 1237.7L875.6 1239.5L877.6 1241.2L879.5 1242.8L881.5 1244.5L883.5 1246.1L885.4 1247.7L887.4 1249.3L889.4 1250.8L891.3 1252.4L893.3 1253.9L895.3 1255.3L897.2 1256.8L899.2 1258.2L901.1 1259.7L903.1 1261.0L905.1 1262.4L907.0 1263.8L909.0 1265.1L911.0 1266.4L912.9 1267.7L914.9 1269.0L916.9 1270.3L918.8 1271.5L920.8 1272.7L922.8 1273.9L924.7 1275.1L926.7 1276.3L928.7 1277.5L930.6 1278.6L932.6 1279.7L934.5 1280.8L936.5 1281.9L938.5 1283.0L940.4 1284.1L942.4 1285.1L944.4 1286.2L946.3 1287.2L948.3 1288.2L950.3 1289.2L952.2 1290.2L954.2 1291.1L956.2 1292.1L958.1 1293.0L960.1 1294.0L962.0 1294.9L964.0 1295.8L966.0 1296.7L967.9 1297.6L969.9 1298.4L971.9 1299.3L973.8 1300.1L975.8 1301.0L977.8 1301.8L979.7 1302.6L981.7 1303.4L983.7 1304.2L985.6 1305.0L987.6 1305.8L989.6 1306.6L991.5 1307.3L993.5 1308.1L995.4 1308.8L997.4 1309.5L999.4 1310.2L1001.3 1311.0L1003.3 1311.7L1005.3 1312.4L1007.2 1313.0L1009.2 1313.7L1011.2 1314.4L1013.1 1315.1L1015.1 1315.7L1017.1 1316.4L1019.0 1317.0L1021.0 1317.6L1023.0 1318.2L1024.9 1318.9L1026.9 1319.5L1028.8 1320.1L1030.8 1320.7L1032.8 1321.3L1034.7 1321.8L1036.7 1322.4L1038.7 1323.0L1040.6 1323.5L1042.6 1324.1L1044.6 1324.6L1046.5 1325.2L1048.5 1325.7L1050.5 1326.3L1052.4 1326.8L1054.4 1327.3L1056.3 1327.8L1058.3 1328.3L1060.3 1328.8L1062.2 1329.3L1064.2 1329.8L1066.2 1330.3L1068.1 1330.8L1070.1 1331.2L1072.1 1331.7L1074.0 1332.2L1076.0 1332.6L1078.0 1333.1L1079.9 1333.5L1081.9 1334.0L1083.9 1334.4L1085.8 1334.9L1087.8 1335.3L1089.7 1335.7L1091.7 1336.1L1093.7 1336.6L1095.6 1337.0L1097.6 1337.4L1099.6 1337.8L1101.5 1338.2L1103.5 1338.6" stroke="#EDB120"/>
<path d="M160.5 1339.7L162.5 1339.3L164.4 1338.9L166.4 1338.5L168.4 1338.1L170.3 1337.7L172.3 1337.2L174.3 1336.8L176.2 1336.4L178.2 1335.9L180.1 1335.5L182.1 1335.1L184.1 1334.6L186.0 1334.2L188.0 1333.7L190.0 1333.2L191.9 1332.8L193.9 1332.3L195.9 1331.8L197.8 1331.3L199.8 1330.8L201.8 1330.3L203.7 1329.8L205.7 1329.3L207.6 1328.8L209.6 1328.3L211.6 1327.8L213.5 1327.2L215.5 1326.7L217.5 1326.2L219.4 1325.6L221.4 1325.1L223.4 1324.5L225.3 1323.9L227.3 1323.4L229.3 1322.8L231.2 1322.2L233.2 1321.6L235.2 1321.0L237.1 1320.4L239.1 1319.8L241.0 1319.1L243.0 1318.5L245.0 1317.9L246.9 1317.2L248.9 1316.6L250.9 1315.9L252.8 1315.2L254.8 1314.6L256.8 1313.9L258.7 1313.2L260.7 1312.5L262.7 1311.7L264.6 1311.0L266.6 1310.3L268.6 1309.6L270.5 1308.8L272.5 1308.0L274.4 1307.3L276.4 1306.5L278.4 1305.7L280.3 1304.9L282.3 1304.1L284.3 1303.3L286.2 1302.4L288.2 1301.6L290.2 1300.7L292.1 1299.9L294.1 1299.0L296.1 1298.1L298.0 1297.2L300.0 1296.3L301.9 1295.4L303.9 1294.5L305.9 1293.5L307.8 1292.5L309.8 1291.6L311.8 1290.6L313.7 1289.6L315.7 1288.6L317.7 1287.5L319.6 1286.5L321.6 1285.4L323.6 1284.4L325.5 1283.3L327.5 1282.2L329.5 1281.1L331.4 1279.9L333.4 1278.8L335.3 1277.6L337.3 1276.4L339.3 1275.2L341.2 1274.0L343.2 1272.8L345.2 1271.5L347.1 1270.2L349.1 1268.9L351.1 1267.6L353.0 1266.3L355.0 1264.9L357.0 1263.6L358.9 1262.2L360.9 1260.8L362.9 1259.3L364.8 1257.9L366.8 1256.4L368.7 1254.9L370.7 1253.4L372.7 1251.8L374.6 1250.3L376.6 1248.7L378.6 1247.0L380.5 1245.4L382.5 1243.7L384.5 1242.0L386.4 1240.3L388.4 1238.5L390.4 1236.8L392.3 1234.9L394.3 1233.1L396.2 1231.2L398.2 1229.3L400.2 1227.4L402.1 1225.4L404.1 1223.4L406.1 1221.4L408.0 1219.3L410.0 1217.2L412.0 1215.1L413.9 1212.9L415.9 1210.7L417.9 1208.4L419.8 1206.1L421.8 1203.8L423.8 1201.4L425.7 1199.0L427.7 1196.5L429.6 1194.0L431.6 1191.5L433.6 1188.9L435.5 1186.2L437.5 1183.6L439.5 1180.8L441.4 1178.0L443.4 1175.2L445.4 1172.3L447.3 1169.3L449.3 1166.3L451.3 1163.3L453.2 1160.2L455.2 1157.0L457.2 1153.7L459.1 1150.4L461.1 1147.1L463.0 1143.6L465.0 1140.1L467.0 1136.5L468.9 1132.9L470.9 1129.2L472.9 1125.4L474.8 1121.5L475.2 1120.7L475.6 1119.9L476.0 1119.1L476.4 1118.3L476.8 1117.5L477.2 1116.7L477.6 1115.9L478.0 1115.1L478.4 1114.3L478.8 1113.5L479.2 1112.7L479.5 1111.9L479.9 1111.1L480.3 1110.2L480.7 1109.4L481.1 1108.6L481.5 1107.7L481.9 1106.9L482.3 1106.0L482.7 1105.2L483.1 1104.3L483.5 1103.5L483.9 1102.6L484.3 1101.8L484.7 1100.9L485.0 1100.0L485.4 1099.2L485.8 1098.3L486.2 1097.4L486.6 1096.5L487.0 1095.6L487.4 1094.7L487.8 1093.8L488.2 1092.9L488.6 1092.0L489.0 1091.1L489.4 1090.2L489.8 1089.3L490.2 1088.4L490.6 1087.5L490.9 1086.5L491.3 1085.6L491.7 1084.7L492.1 1083.7L492.5 1082.8L492.9 1081.8L493.3 1080.9L493.7 1079.9L494.1 1079.0L494.5 1078.0L494.9 1077.1L495.3 1076.1L495.7 1075.1L496.1 1074.1L496.4 1073.1L496.8 1072.2L497.2 1071.2L497.6 1070.2L498.0 1069.2L498.4 1068.2L498.8 1067.1L499.2 1066.1L499.6 1065.1L500.0 1064.1L500.4 1063.1L500.8 1062.0L501.2 1061.0L501.6 1060.0L501.9 1058.9L502.3 1057.9L502.7 1056.8L503.1 1055.7L503.5 1054.7L503.9 1053.6L504.3 1052.5L504.7 1051.4L505.1 1050.4L505.5 1049.3L505.9 1048.2L506.3 1047.1L506.7 1046.0L507.1 1044.9L507.4 1043.7L507.8 1042.6L508.2 1041.5L508.6 1040.4L509.0 1039.2L509.4 1038.1L509.8 1037.0L510.2 1035.8L510.6 1034.6L511.0 1033.5L511.4 1032.3L511.8 1031.1L512.2 1030.0L512.6 1028.8L512.9 1027.6L513.3 1026.4L513.7 1025.2L514.1 1024.0L514.5 1022.8L514.9 1021.6L515.3 1020.3L515.7 1019.1L516.1 1017.9L516.5 1016.6L516.9 1015.4L517.3 1014.2L517.7 1012.9L518.1 1011.6L518.4 1010.4L518.8 1009.1L519.2 1007.8L519.6 1006.5L520.0 1005.2L520.4 1003.9L520.8 1002.6L521.2 1001.3L521.6 1000.0L522.0 998.7L522.4 997.3L522.8 996.0L523.2 994.7L523.6 993.3L523.9 991.9L524.3 990.6L524.7 989.2L525.1 987.8L525.5 986.5L525.9 985.1L526.3 983.7L526.7 982.3L527.1 980.9L527.5 979.4L527.9 978.0L528.3 976.6L528.7 975.1L529.1 973.7L529.4 972.2L529.8 970.8L530.2 969.3L530.6 967.8L531.0 966.4L531.4 964.9L531.8 963.4L532.2 961.9L532.6 960.4L533.0 958.8L533.4 957.3L533.8 955.8L534.2 954.2L534.6 952.7L534.9 951.1L535.3 949.5L535.7 948.0L536.1 946.4L536.5 944.8L536.9 943.2L537.3 941.6L537.7 940.0L538.1 938.4L538.5 936.7L538.9 935.1L539.3 933.4L539.7 931.8L540.1 930.1L540.5 928.4L540.8 926.8L541.2 925.1L541.6 923.4L542.0 921.6L542.4 919.9L542.8 918.2L543.2 916.5L543.6 914.7L544.0 913.0L544.4 911.2L544.8 909.4L545.2 907.6L545.6 905.8L546.0 904.0L546.3 902.2L546.7 900.4L547.1 898.6L547.5 896.7L547.9 894.9L548.3 893.0L548.7 891.1L549.1 889.3L549.5 887.4L549.9 885.5L550.3 883.5L550.7 881.6L551.1 879.7L551.5 877.7L551.8 875.8L552.2 873.8L552.6 871.8L553.0 869.9L553.4 867.9L553.8 865.8L554.2 863.8L554.6 861.8L555.0 859.7L555.4 857.7L555.8 855.6L556.2 853.5L556.6 851.4L557.0 849.3L557.3 847.2L557.7 845.1L558.1 843.0L558.5 840.8L558.9 838.6L559.3 836.5L559.7 834.3L560.1 832.1L560.5 829.9L560.9 827.6L561.3 825.4L561.7 823.1L562.1 820.9L562.5 818.6L562.8 816.3L563.2 814.0L563.6 811.7L564.0 809.3L564.4 807.0L564.8 804.6L565.2 802.3L565.6 799.9L566.0 797.5L566.4 795.0L566.8 792.6L567.2 790.2L567.6 787.7L568.0 785.2L568.3 782.7L568.7 780.2L569.1 777.7L569.5 775.2L569.9 772.6L570.3 770.0L570.7 767.5L571.1 764.9L571.5 762.2L571.9 759.6L572.3 756.9L572.7 754.3L573.1 751.6L573.5 748.9L573.8 746.2L574.2 743.4L574.6 740.7L575.0 737.9L575.4 735.1L575.8 732.3L576.2 729.5L576.6 726.7L577.0 723.8L577.4 720.9L577.8 718.0L578.2 715.1L578.6 712.2L579.0 709.2L579.3 706.3L579.7 703.3L580.1 700.3L580.5 697.2L580.9 694.2L581.3 691.1L581.7 688.0L582.1 684.9L582.5 681.8L582.9 678.6L583.3 675.5L583.7 672.3L584.1 669.1L584.5 665.8L584.9 662.6L585.2 659.3L585.6 656.0L586.0 652.6L586.4 649.3L586.8 645.9L587.2 642.5L587.6 639.1L588.0 635.7L588.4 632.2L588.8 628.7L589.2 625.2L589.6 621.7L590.0 618.1L590.4 614.5L590.7 610.9L591.1 607.3L591.5 603.6L591.9 599.9L592.3 596.2L592.7 592.5L593.1 588.7L593.5 584.9L593.9 581.1L594.3 577.3L594.7 573.4L595.1 569.5L595.5 565.6L595.9 561.6L596.2 557.6L596.6 553.6L597.0 549.6L597.4 545.5L597.8 541.4L598.2 537.3L598.6 533.2L599.0 529.0L599.4 524.8L599.8 520.5L600.2 516.3L600.6 512.0L601.0 507.7L601.4 503.3L601.7 498.9L602.1 494.5L602.5 490.1L602.9 485.6L603.3 481.1L603.7 476.6L604.1 472.1L604.5 467.5L604.9 462.9L605.3 458.3L605.7 453.6L606.1 448.9L606.5 444.2L606.9 439.5L607.2 434.7L607.6 429.9L608.0 425.1L608.4 420.3L608.8 415.4L609.2 410.6L609.6 405.7L610.0 400.8L610.4 395.8L610.8 390.9L611.2 385.9L611.6 381.0L612.0 376.0L612.4 371.0L612.7 366.0L613.1 361.1L613.5 356.1L613.9 351.1L614.3 346.1L614.7 341.2L615.1 336.2L615.5 331.3L615.9 326.4L616.3 321.5L616.7 316.6L617.1 311.8L617.5 307.1L617.9 302.4L618.2 297.7L618.6 293.1L619.0 288.5L619.4 284.1L619.8 279.7L620.2 275.4L620.6 271.2L621.0 267.1L621.4 263.1L621.8 259.3L622.2 255.5L622.6 251.9L623.0 248.5L623.4 245.1L623.7 242.0L624.1 239.0L624.5 236.1L624.9 233.5L625.3 231.0L625.7 228.6L626.1 226.5L626.5 224.5L626.9 222.7L627.3 221.0L627.7 219.6L628.1 218.2L628.5 217.1L628.9 216.1L629.2 215.2L629.6 214.4L630.0 213.8L630.4 213.3L630.8 213.0L631.2 212.7L631.6 212.6L632.0 212.5L632.4 212.6L632.8 212.7L633.2 213.0L633.6 213.3L634.0 213.8L634.4 214.4L634.8 215.2L635.1 216.1L635.5 217.1L635.9 218.2L636.3 219.6L636.7 221.0L637.1 222.7L637.5 224.5L637.9 226.5L638.3 228.6L638.7 231.0L639.1 233.5L639.5 236.1L639.9 239.0L640.3 242.0L640.6 245.1L641.0 248.5L641.4 251.9L641.8 255.5L642.2 259.3L642.6 263.1L643.0 267.1L643.4 271.2L643.8 275.4L644.2 279.7L644.6 284.1L645.0 288.5L645.4 293.1L645.8 297.7L646.1 302.4L646.5 307.1L646.9 311.8L647.3 316.6L647.7 321.5L648.1 326.4L648.5 331.3L648.9 336.2L649.3 341.2L649.7 346.1L650.1 351.1L650.5 356.1L650.9 361.1L651.3 366.0L651.6 371.0L652.0 376.0L652.4 381.0L652.8 385.9L653.2 390.9L653.6 395.8L654.0 400.8L654.4 405.7L654.8 410.6L655.2 415.4L655.6 420.3L656.0 425.1L656.4 429.9L656.8 434.7L657.1 439.5L657.5 444.2L657.9 448.9L658.3 453.6L658.7 458.3L659.1 462.9L659.5 467.5L659.9 472.1L660.3 476.6L660.7 481.1L661.1 485.6L661.5 490.1L661.9 494.5L662.3 498.9L662.6 503.3L663.0 507.7L663.4 512.0L663.8 516.3L664.2 520.5L664.6 524.8L665.0 529.0L665.4 533.2L665.8 537.3L666.2 541.4L666.6 545.5L667.0 549.6L667.4 553.6L667.8 557.6L668.1 561.6L668.5 565.6L668.9 569.5L669.3 573.4L669.7 577.3L670.1 581.1L670.5 584.9L670.9 588.7L671.3 592.5L671.7 596.2L672.1 599.9L672.5 603.6L672.9 607.3L673.3 610.9L673.6 614.5L674.0 618.1L674.4 621.7L674.8 625.2L675.2 628.7L675.6 632.2L676.0 635.7L676.4 639.1L676.8 642.5L677.2 645.9L677.6 649.3L678.0 652.6L678.4 656.0L678.8 659.3L679.1 662.6L679.5 665.8L679.9 669.1L680.3 672.3L680.7 675.5L681.1 678.6L681.5 681.8L681.9 684.9L682.3 688.0L682.7 691.1L683.1 694.2L683.5 697.2L683.9 700.3L684.3 703.3L684.7 706.3L685.0 709.2L685.4 712.2L685.8 715.1L686.2 718.0L686.6 720.9L687.0 723.8L687.4 726.7L687.8 729.5L688.2 732.3L688.6 735.1L689.0 737.9L689.4 740.7L689.8 743.4L690.2 746.2L690.5 748.9L690.9 751.6L691.3 754.3L691.7 756.9L692.1 759.6L692.5 762.2L692.9 764.9L693.3 767.5L693.7 770.0L694.1 772.6L694.5 775.2L694.9 777.7L695.3 780.2L695.7 782.7L696.0 785.2L696.4 787.7L696.8 790.2L697.2 792.6L697.6 795.0L698.0 797.5L698.4 799.9L698.8 802.3L699.2 804.6L699.6 807.0L700.0 809.3L700.4 811.7L700.8 814.0L701.2 816.3L701.5 818.6L701.9 820.9L702.3 823.1L702.7 825.4L703.1 827.6L703.5 829.9L703.9 832.1L704.3 834.3L704.7 836.5L705.1 838.6L705.5 840.8L705.9 843.0L706.3 845.1L706.7 847.2L707.0 849.3L707.4 851.4L707.8 853.5L708.2 855.6L708.6 857.7L709.0 859.7L709.4 861.8L709.8 863.8L710.2 865.8L710.6 867.9L711.0 869.9L711.4 871.8L711.8 873.8L712.2 875.8L712.5 877.7L712.9 879.7L713.3 881.6L713.7 883.5L714.1 885.5L714.5 887.4L714.9 889.3L715.3 891.1L715.7 893.0L716.1 894.9L716.5 896.7L716.9 898.6L717.3 900.4L717.7 902.2L718.0 904.0L718.4 905.8L718.8 907.6L719.2 909.4L719.6 911.2L720.0 913.0L720.4 914.7L720.8 916.5L721.2 918.2L721.6 919.9L722.0 921.6L722.4 923.4L722.8 925.1L723.2 926.8L723.5 928.4L723.9 930.1L724.3 931.8L724.7 933.4L725.1 935.1L725.5 936.7L725.9 938.4L726.3 940.0L726.7 941.6L727.1 943.2L727.5 944.8L727.9 946.4L728.3 948.0L728.7 949.5L729.1 951.1L729.4 952.7L729.8 954.2L730.2 955.8L730.6 957.3L731.0 958.8L731.4 960.4L731.8 961.9L732.2 963.4L732.6 964.9L733.0 966.4L733.4 967.8L733.8 969.3L734.2 970.8L734.6 972.2L734.9 973.7L735.3 975.1L735.7 976.6L736.1 978.0L736.5 979.4L736.9 980.9L737.3 982.3L737.7 983.7L738.1 985.1L738.5 986.5L738.9 987.8L739.3 989.2L739.7 990.6L740.1 991.9L740.4 993.3L740.8 994.7L741.2 996.0L741.6 997.3L742.0 998.7L742.4 1000.0L742.8 1001.3L743.2 1002.6L743.6 1003.9L744.0 1005.2L744.4 1006.5L744.8 1007.8L745.2 1009.1L745.6 1010.4L745.9 1011.6L746.3 1012.9L746.7 1014.2L747.1 1015.4L747.5 1016.6L747.9 1017.9L748.3 1019.1L748.7 1020.3L749.1 1021.6L749.5 1022.8L749.9 1024.0L750.3 1025.2L750.7 1026.4L751.1 1027.6L751.4 1028.8L751.8 1030.0L752.2 1031.1L752.6 1032.3L753.0 1033.5L753.4 1034.6L753.8 1035.8L754.2 1037.0L754.6 1038.1L755.0 1039.2L755.4 1040.4L755.8 1041.5L756.2 1042.6L756.6 1043.7L756.9 1044.9L757.3 1046.0L757.7 1047.1L758.1 1048.2L758.5 1049.3L758.9 1050.4L759.3 1051.4L759.7 1052.5L760.1 1053.6L760.5 1054.7L760.9 1055.7L761.3 1056.8L761.7 1057.9L762.1 1058.9L762.4 1060.0L762.8 1061.0L763.2 1062.0L763.6 1063.1L764.0 1064.1L764.4 1065.1L764.8 1066.1L765.2 1067.1L765.6 1068.2L766.0 1069.2L766.4 1070.2L766.8 1071.2L767.2 1072.2L767.6 1073.1L767.9 1074.1L768.3 1075.1L768.7 1076.1L769.1 1077.1L769.5 1078.0L769.9 1079.0L770.3 1079.9L770.7 1080.9L771.1 1081.8L771.5 1082.8L771.9 1083.7L772.3 1084.7L772.7 1085.6L773.1 1086.5L773.5 1087.5L773.8 1088.4L774.2 1089.3L774.6 1090.2L775.0 1091.1L775.4 1092.0L775.8 1092.9L776.2 1093.8L776.6 1094.7L777.0 1095.6L777.4 1096.5L777.8 1097.4L778.2 1098.3L778.6 1099.2L779.0 1100.0L779.3 1100.9L779.7 1101.8L780.1 1102.6L780.5 1103.5L780.9 1104.3L781.3 1105.2L781.7 1106.0L782.1 1106.9L782.5 1107.7L782.9 1108.6L783.3 1109.4L783.7 1110.2L784.1 1111.1L784.5 1111.9L784.8 1112.7L785.2 1113.5L785.6 1114.3L786.0 1115.1L786.4 1115.9L786.8 1116.7L787.2 1117.5L787.6 1118.3L788.0 1119.1L788.4 1119.9L788.8 1120.7L789.2 1121.5L791.1 1125.4L793.1 1129.2L795.1 1132.9L797.0 1136.5L799.0 1140.1L801.0 1143.6L802.9 1147.1L804.9 1150.4L806.8 1153.7L808.8 1157.0L810.8 1160.2L812.7 1163.3L814.7 1166.3L816.7 1169.3L818.6 1172.3L820.6 1175.2L822.6 1178.0L824.5 1180.8L826.5 1183.6L828.5 1186.2L830.4 1188.9L832.4 1191.5L834.4 1194.0L836.3 1196.5L838.3 1199.0L840.2 1201.4L842.2 1203.8L844.2 1206.1L846.1 1208.4L848.1 1210.7L850.1 1212.9L852.0 1215.1L854.0 1217.2L856.0 1219.3L857.9 1221.4L859.9 1223.4L861.9 1225.4L863.8 1227.4L865.8 1229.3L867.8 1231.2L869.7 1233.1L871.7 1234.9L873.6 1236.8L875.6 1238.5L877.6 1240.3L879.5 1242.0L881.5 1243.7L883.5 1245.4L885.4 1247.0L887.4 1248.7L889.4 1250.3L891.3 1251.8L893.3 1253.4L895.3 1254.9L897.2 1256.4L899.2 1257.9L901.1 1259.3L903.1 1260.8L905.1 1262.2L907.0 1263.6L909.0 1264.9L911.0 1266.3L912.9 1267.6L914.9 1268.9L916.9 1270.2L918.8 1271.5L920.8 1272.8L922.8 1274.0L924.7 1275.2L926.7 1276.4L928.7 1277.6L930.6 1278.8L932.6 1279.9L934.5 1281.1L936.5 1282.2L938.5 1283.3L940.4 1284.4L942.4 1285.4L944.4 1286.5L946.3 1287.5L948.3 1288.6L950.3 1289.6L952.2 1290.6L954.2 1291.6L956.2 1292.5L958.1 1293.5L960.1 1294.5L962.0 1295.4L964.0 1296.3L966.0 1297.2L967.9 1298.1L969.9 1299.0L971.9 1299.9L973.8 1300.7L975.8 1301.6L977.8 1302.4L979.7 1303.3L981.7 1304.1L983.7 1304.9L985.6 1305.7L987.6 1306.5L989.6 1307.3L991.5 1308.0L993.5 1308.8L995.4 1309.6L997.4 1310.3L999.4 1311.0L1001.3 1311.7L1003.3 1312.5L1005.3 1313.2L1007.2 1313.9L1009.2 1314.6L1011.2 1315.2L1013.1 1315.9L1015.1 1316.6L1017.1 1317.2L1019.0 1317.9L1021.0 1318.5L1023.0 1319.1L1024.9 1319.8L1026.9 1320.4L1028.8 1321.0L1030.8 1321.6L1032.8 1322.2L1034.7 1322.8L1036.7 1323.4L1038.7 1323.9L1040.6 1324.5L1042.6 1325.1L1044.6 1325.6L1046.5 1326.2L1048.5 1326.7L1050.5 1327.2L1052.4 1327.8L1054.4 1328.3L1056.3 1328.8L1058.3 1329.3L1060.3 1329.8L1062.2 1330.3L1064.2 1330.8L1066.2 1331.3L1068.1 1331.8L1070.1 1332.3L1072.1 1332.8L1074.0 1333.2L1076.0 1333.7L1078.0 1334.2L1079.9 1334.6L1081.9 1335.1L1083.9 1335.5L1085.8 1335.9L1087.8 1336.4L1089.7 1336.8L1091.7 1337.2L1093.7 1337.7L1095.6 1338.1L1097.6 1338.5L1099.6 1338.9L1101.5 1339.3L1103.5 1339.7" stroke="#A2142F"/>
<path d="M160.5 1344.9L162.5 1344.4L164.4 1343.9L166.4 1343.5L168.4 1343.0L170.3 1342.5L172.3 1342.0L174.3 1341.5L176.2 1341.0L178.2 1340.5L180.1 1340.0L182.1 1339.5L184.1 1339.0L186.0 1338.5L188.0 1338.0L190.0 1337.5L191.9 1336.9L193.9 1336.4L195.9 1335.9L197.8 1335.3L199.8 1334.8L201.8 1334.2L203.7 1333.7L205.7 1333.1L207.6 1332.5L209.6 1332.0L211.6 1331.4L213.5 1330.8L215.5 1330.2L217.5 1329.6L219.4 1329.0L221.4 1328.4L223.4 1327.8L225.3 1327.2L227.3 1326.6L229.3 1325.9L231.2 1325.3L233.2 1324.6L235.2 1324.0L237.1 1323.3L239.1 1322.7L241.0 1322.0L243.0 1321.3L245.0 1320.6L246.9 1319.9L248.9 1319.2L250.9 1318.5L252.8 1317.8L254.8 1317.1L256.8 1316.3L258.7 1315.6L260.7 1314.9L262.7 1314.1L264.6 1313.3L266.6 1312.6L268.6 1311.8L270.5 1311.0L272.5 1310.2L274.4 1309.4L276.4 1308.6L278.4 1307.8L280.3 1306.9L282.3 1306.1L284.3 1305.2L286.2 1304.4L288.2 1303.5L290.2 1302.6L292.1 1301.7L294.1 1300.8L296.1 1299.9L298.0 1299.0L300.0 1298.0L301.9 1297.1L303.9 1296.1L305.9 1295.1L307.8 1294.2L309.8 1293.2L311.8 1292.1L313.7 1291.1L315.7 1290.1L317.7 1289.0L319.6 1287.9L321.6 1286.8L323.6 1285.7L325.5 1284.6L327.5 1283.5L329.5 1282.3L331.4 1281.2L333.4 1280.0L335.3 1278.8L337.3 1277.6L339.3 1276.4L341.2 1275.1L343.2 1273.8L345.2 1272.6L347.1 1271.3L349.1 1269.9L351.1 1268.6L353.0 1267.2L355.0 1265.8L357.0 1264.4L358.9 1263.0L360.9 1261.6L362.9 1260.1L364.8 1258.6L366.8 1257.1L368.7 1255.5L370.7 1254.0L372.7 1252.4L374.6 1250.8L376.6 1249.1L378.6 1247.5L380.5 1245.8L382.5 1244.1L384.5 1242.3L386.4 1240.6L388.4 1238.8L390.4 1236.9L392.3 1235.1L394.3 1233.2L396.2 1231.2L398.2 1229.3L400.2 1227.3L402.1 1225.2L404.1 1223.2L406.1 1221.1L408.0 1219.0L410.0 1216.8L412.0 1214.6L413.9 1212.3L415.9 1210.0L417.9 1207.7L419.8 1205.3L421.8 1202.9L423.8 1200.4L425.7 1197.9L427.7 1195.4L429.6 1192.8L431.6 1190.1L433.6 1187.4L435.5 1184.7L437.5 1181.9L439.5 1179.0L441.4 1176.1L443.4 1173.1L445.4 1170.1L447.3 1167.0L449.3 1163.9L451.3 1160.6L453.2 1157.4L455.2 1154.0L457.2 1150.6L459.1 1147.1L461.1 1143.6L463.0 1140.0L465.0 1136.3L467.0 1132.5L468.9 1128.7L470.9 1124.7L472.9 1120.7L474.8 1116.6L475.2 1115.8L475.6 1114.9L476.0 1114.1L476.4 1113.3L476.8 1112.4L477.2 1111.6L477.6 1110.7L478.0 1109.9L478.4 1109.0L478.8 1108.1L479.2 1107.3L479.5 1106.4L479.9 1105.5L480.3 1104.7L480.7 1103.8L481.1 1102.9L481.5 1102.0L481.9 1101.1L482.3 1100.2L482.7 1099.3L483.1 1098.4L483.5 1097.5L483.9 1096.6L484.3 1095.7L484.7 1094.7L485.0 1093.8L485.4 1092.9L485.8 1092.0L486.2 1091.0L486.6 1090.1L487.0 1089.1L487.4 1088.2L487.8 1087.2L488.2 1086.3L488.6 1085.3L489.0 1084.4L489.4 1083.4L489.8 1082.4L490.2 1081.4L490.6 1080.5L490.9 1079.5L491.3 1078.5L491.7 1077.5L492.1 1076.5L492.5 1075.5L492.9 1074.5L493.3 1073.5L493.7 1072.4L494.1 1071.4L494.5 1070.4L494.9 1069.4L495.3 1068.3L495.7 1067.3L496.1 1066.2L496.4 1065.2L496.8 1064.1L497.2 1063.1L497.6 1062.0L498.0 1060.9L498.4 1059.9L498.8 1058.8L499.2 1057.7L499.6 1056.6L500.0 1055.5L500.4 1054.4L500.8 1053.3L501.2 1052.2L501.6 1051.1L501.9 1050.0L502.3 1048.9L502.7 1047.7L503.1 1046.6L503.5 1045.5L503.9 1044.3L504.3 1043.2L504.7 1042.0L505.1 1040.9L505.5 1039.7L505.9 1038.5L506.3 1037.4L506.7 1036.2L507.1 1035.0L507.4 1033.8L507.8 1032.6L508.2 1031.4L508.6 1030.2L509.0 1029.0L509.4 1027.8L509.8 1026.6L510.2 1025.3L510.6 1024.1L511.0 1022.9L511.4 1021.6L511.8 1020.4L512.2 1019.1L512.6 1017.8L512.9 1016.6L513.3 1015.3L513.7 1014.0L514.1 1012.7L514.5 1011.4L514.9 1010.1L515.3 1008.8L515.7 1007.5L516.1 1006.2L516.5 1004.9L516.9 1003.5L517.3 1002.2L517.7 1000.9L518.1 999.5L518.4 998.2L518.8 996.8L519.2 995.4L519.6 994.1L520.0 992.7L520.4 991.3L520.8 989.9L521.2 988.5L521.6 987.1L522.0 985.7L522.4 984.3L522.8 982.8L523.2 981.4L523.6 979.9L523.9 978.5L524.3 977.0L524.7 975.6L525.1 974.1L525.5 972.6L525.9 971.2L526.3 969.7L526.7 968.2L527.1 966.7L527.5 965.2L527.9 963.6L528.3 962.1L528.7 960.6L529.1 959.0L529.4 957.5L529.8 955.9L530.2 954.4L530.6 952.8L531.0 951.2L531.4 949.6L531.8 948.1L532.2 946.5L532.6 944.8L533.0 943.2L533.4 941.6L533.8 940.0L534.2 938.3L534.6 936.7L534.9 935.0L535.3 933.4L535.7 931.7L536.1 930.0L536.5 928.3L536.9 926.6L537.3 924.9L537.7 923.2L538.1 921.5L538.5 919.8L538.9 918.0L539.3 916.3L539.7 914.5L540.1 912.7L540.5 911.0L540.8 909.2L541.2 907.4L541.6 905.6L542.0 903.8L542.4 902.0L542.8 900.1L543.2 898.3L543.6 896.5L544.0 894.6L544.4 892.7L544.8 890.9L545.2 889.0L545.6 887.1L546.0 885.2L546.3 883.3L546.7 881.3L547.1 879.4L547.5 877.5L547.9 875.5L548.3 873.6L548.7 871.6L549.1 869.6L549.5 867.6L549.9 865.6L550.3 863.6L550.7 861.6L551.1 859.5L551.5 857.5L551.8 855.4L552.2 853.4L552.6 851.3L553.0 849.2L553.4 847.1L553.8 845.0L554.2 842.9L554.6 840.7L555.0 838.6L555.4 836.4L555.8 834.2L556.2 832.1L556.6 829.9L557.0 827.7L557.3 825.5L557.7 823.2L558.1 821.0L558.5 818.7L558.9 816.5L559.3 814.2L559.7 811.9L560.1 809.6L560.5 807.3L560.9 805.0L561.3 802.6L561.7 800.3L562.1 797.9L562.5 795.5L562.8 793.1L563.2 790.7L563.6 788.3L564.0 785.9L564.4 783.4L564.8 780.9L565.2 778.5L565.6 776.0L566.0 773.5L566.4 770.9L566.8 768.4L567.2 765.9L567.6 763.3L568.0 760.7L568.3 758.1L568.7 755.5L569.1 752.9L569.5 750.2L569.9 747.6L570.3 744.9L570.7 742.2L571.1 739.5L571.5 736.8L571.9 734.0L572.3 731.3L572.7 728.5L573.1 725.7L573.5 722.9L573.8 720.1L574.2 717.2L574.6 714.3L575.0 711.5L575.4 708.6L575.8 705.6L576.2 702.7L576.6 699.7L577.0 696.8L577.4 693.8L577.8 690.7L578.2 687.7L578.6 684.6L579.0 681.6L579.3 678.5L579.7 675.3L580.1 672.2L580.5 669.0L580.9 665.8L581.3 662.6L581.7 659.4L582.1 656.1L582.5 652.9L582.9 649.6L583.3 646.2L583.7 642.9L584.1 639.5L584.5 636.1L584.9 632.7L585.2 629.3L585.6 625.8L586.0 622.3L586.4 618.7L586.8 615.2L587.2 611.6L587.6 608.0L588.0 604.3L588.4 600.7L588.8 597.0L589.2 593.3L589.6 589.5L590.0 585.7L590.4 581.9L590.7 578.1L591.1 574.2L591.5 570.4L591.9 566.4L592.3 562.5L592.7 558.5L593.1 554.5L593.5 550.5L593.9 546.4L594.3 542.3L594.7 538.2L595.1 534.0L595.5 529.8L595.9 525.6L596.2 521.3L596.6 517.0L597.0 512.7L597.4 508.4L597.8 504.0L598.2 499.6L598.6 495.1L599.0 490.6L599.4 486.1L599.8 481.6L600.2 477.0L600.6 472.4L601.0 467.8L601.4 463.1L601.7 458.4L602.1 453.7L602.5 448.9L602.9 444.1L603.3 439.3L603.7 434.5L604.1 429.6L604.5 424.7L604.9 419.8L605.3 414.8L605.7 409.9L606.1 404.9L606.5 399.8L606.9 394.8L607.2 389.7L607.6 384.7L608.0 379.6L608.4 374.5L608.8 369.3L609.2 364.2L609.6 359.0L610.0 353.9L610.4 348.7L610.8 343.5L611.2 338.3L611.6 333.2L612.0 328.0L612.4 322.8L612.7 317.6L613.1 312.5L613.5 307.3L613.9 302.2L614.3 297.1L614.7 292.0L615.1 286.9L615.5 281.9L615.9 276.9L616.3 271.9L616.7 267.0L617.1 262.1L617.5 257.3L617.9 252.5L618.2 247.8L618.6 243.2L619.0 238.6L619.4 234.1L619.8 229.7L620.2 225.3L620.6 221.1L621.0 216.9L621.4 212.8L621.8 208.9L622.2 205.0L622.6 201.3L623.0 197.7L623.4 194.2L623.7 190.8L624.1 187.6L624.5 184.5L624.9 181.5L625.3 178.6L625.7 175.9L626.1 173.4L626.5 171.0L626.9 168.8L627.3 166.7L627.7 164.8L628.1 163.1L628.5 161.5L628.9 160.0L629.2 158.8L629.6 157.7L630.0 156.7L630.4 155.9L630.8 155.3L631.2 154.8L631.6 154.5L632.0 154.4L632.4 154.5L632.8 154.8L633.2 155.3L633.6 155.9L634.0 156.7L634.4 157.7L634.8 158.8L635.1 160.0L635.5 161.5L635.9 163.1L636.3 164.8L636.7 166.7L637.1 168.8L637.5 171.0L637.9 173.4L638.3 175.9L638.7 178.6L639.1 181.5L639.5 184.5L639.9 187.6L640.3 190.8L640.6 194.2L641.0 197.7L641.4 201.3L641.8 205.0L642.2 208.9L642.6 212.8L643.0 216.9L643.4 221.1L643.8 225.3L644.2 229.7L644.6 234.1L645.0 238.6L645.4 243.2L645.8 247.8L646.1 252.5L646.5 257.3L646.9 262.1L647.3 267.0L647.7 271.9L648.1 276.9L648.5 281.9L648.9 286.9L649.3 292.0L649.7 297.1L650.1 302.2L650.5 307.3L650.9 312.5L651.3 317.6L651.6 322.8L652.0 328.0L652.4 333.2L652.8 338.3L653.2 343.5L653.6 348.7L654.0 353.9L654.4 359.0L654.8 364.2L655.2 369.3L655.6 374.5L656.0 379.6L656.4 384.7L656.8 389.7L657.1 394.8L657.5 399.8L657.9 404.9L658.3 409.9L658.7 414.8L659.1 419.8L659.5 424.7L659.9 429.6L660.3 434.5L660.7 439.3L661.1 444.1L661.5 448.9L661.9 453.7L662.3 458.4L662.6 463.1L663.0 467.8L663.4 472.4L663.8 477.0L664.2 481.6L664.6 486.1L665.0 490.6L665.4 495.1L665.8 499.6L666.2 504.0L666.6 508.4L667.0 512.7L667.4 517.0L667.8 521.3L668.1 525.6L668.5 529.8L668.9 534.0L669.3 538.2L669.7 542.3L670.1 546.4L670.5 550.5L670.9 554.5L671.3 558.5L671.7 562.5L672.1 566.4L672.5 570.4L672.9 574.2L673.3 578.1L673.6 581.9L674.0 585.7L674.4 589.5L674.8 593.3L675.2 597.0L675.6 600.7L676.0 604.3L676.4 608.0L676.8 611.6L677.2 615.2L677.6 618.7L678.0 622.3L678.4 625.8L678.8 629.3L679.1 632.7L679.5 636.1L679.9 639.5L680.3 642.9L680.7 646.2L681.1 649.6L681.5 652.9L681.9 656.1L682.3 659.4L682.7 662.6L683.1 665.8L683.5 669.0L683.9 672.2L684.3 675.3L684.7 678.5L685.0 681.6L685.4 684.6L685.8 687.7L686.2 690.7L686.6 693.8L687.0 696.8L687.4 699.7L687.8 702.7L688.2 705.6L688.6 708.6L689.0 711.5L689.4 714.3L689.8 717.2L690.2 720.1L690.5 722.9L690.9 725.7L691.3 728.5L691.7 731.3L692.1 734.0L692.5 736.8L692.9 739.5L693.3 742.2L693.7 744.9L694.1 747.6L694.5 750.2L694.9 752.9L695.3 755.5L695.7 758.1L696.0 760.7L696.4 763.3L696.8 765.9L697.2 768.4L697.6 770.9L698.0 773.5L698.4 776.0L698.8 778.5L699.2 780.9L699.6 783.4L700.0 785.9L700.4 788.3L700.8 790.7L701.2 793.1L701.5 795.5L701.9 797.9L702.3 800.3L702.7 802.6L703.1 805.0L703.5 807.3L703.9 809.6L704.3 811.9L704.7 814.2L705.1 816.5L705.5 818.7L705.9 821.0L706.3 823.2L706.7 825.5L707.0 827.7L707.4 829.9L707.8 832.1L708.2 834.2L708.6 836.4L709.0 838.6L709.4 840.7L709.8 842.9L710.2 845.0L710.6 847.1L711.0 849.2L711.4 851.3L711.8 853.4L712.2 855.4L712.5 857.5L712.9 859.5L713.3 861.6L713.7 863.6L714.1 865.6L714.5 867.6L714.9 869.6L715.3 871.6L715.7 873.6L716.1 875.5L716.5 877.5L716.9 879.4L717.3 881.3L717.7 883.3L718.0 885.2L718.4 887.1L718.8 889.0L719.2 890.9L719.6 892.7L720.0 894.6L720.4 896.5L720.8 898.3L721.2 900.1L721.6 902.0L722.0 903.8L722.4 905.6L722.8 907.4L723.2 909.2L723.5 911.0L723.9 912.7L724.3 914.5L724.7 916.3L725.1 918.0L725.5 919.8L725.9 921.5L726.3 923.2L726.7 924.9L727.1 926.6L727.5 928.3L727.9 930.0L728.3 931.7L728.7 933.4L729.1 935.0L729.4 936.7L729.8 938.3L730.2 940.0L730.6 941.6L731.0 943.2L731.4 944.8L731.8 946.5L732.2 948.1L732.6 949.6L733.0 951.2L733.4 952.8L733.8 954.4L734.2 955.9L734.6 957.5L734.9 959.0L735.3 960.6L735.7 962.1L736.1 963.6L736.5 965.2L736.9 966.7L737.3 968.2L737.7 969.7L738.1 971.2L738.5 972.6L738.9 974.1L739.3 975.6L739.7 977.0L740.1 978.5L740.4 979.9L740.8 981.4L741.2 982.8L741.6 984.3L742.0 985.7L742.4 987.1L742.8 988.5L743.2 989.9L743.6 991.3L744.0 992.7L744.4 994.1L744.8 995.4L745.2 996.8L745.6 998.2L745.9 999.5L746.3 1000.9L746.7 1002.2L747.1 1003.5L747.5 1004.9L747.9 1006.2L748.3 1007.5L748.7 1008.8L749.1 1010.1L749.5 1011.4L749.9 1012.7L750.3 1014.0L750.7 1015.3L751.1 1016.6L751.4 1017.8L751.8 1019.1L752.2 1020.4L752.6 1021.6L753.0 1022.9L753.4 1024.1L753.8 1025.3L754.2 1026.6L754.6 1027.8L755.0 1029.0L755.4 1030.2L755.8 1031.4L756.2 1032.6L756.6 1033.8L756.9 1035.0L757.3 1036.2L757.7 1037.4L758.1 1038.5L758.5 1039.7L758.9 1040.9L759.3 1042.0L759.7 1043.2L760.1 1044.3L760.5 1045.5L760.9 1046.6L761.3 1047.7L761.7 1048.9L762.1 1050.0L762.4 1051.1L762.8 1052.2L763.2 1053.3L763.6 1054.4L764.0 1055.5L764.4 1056.6L764.8 1057.7L765.2 1058.8L765.6 1059.9L766.0 1060.9L766.4 1062.0L766.8 1063.1L767.2 1064.1L767.6 1065.2L767.9 1066.2L768.3 1067.3L768.7 1068.3L769.1 1069.4L769.5 1070.4L769.9 1071.4L770.3 1072.4L770.7 1073.5L771.1 1074.5L771.5 1075.5L771.9 1076.5L772.3 1077.5L772.7 1078.5L773.1 1079.5L773.5 1080.5L773.8 1081.4L774.2 1082.4L774.6 1083.4L775.0 1084.4L775.4 1085.3L775.8 1086.3L776.2 1087.2L776.6 1088.2L777.0 1089.1L777.4 1090.1L777.8 1091.0L778.2 1092.0L778.6 1092.9L779.0 1093.8L779.3 1094.7L779.7 1095.7L780.1 1096.6L780.5 1097.5L780.9 1098.4L781.3 1099.3L781.7 1100.2L782.1 1101.1L782.5 1102.0L782.9 1102.9L783.3 1103.8L783.7 1104.7L784.1 1105.5L784.5 1106.4L784.8 1107.3L785.2 1108.1L785.6 1109.0L786.0 1109.9L786.4 1110.7L786.8 1111.6L787.2 1112.4L787.6 1113.3L788.0 1114.1L788.4 1114.9L788.8 1115.8L789.2 1116.6L791.1 1120.7L793.1 1124.7L795.1 1128.7L797.0 1132.5L799.0 1136.3L801.0 1140.0L802.9 1143.6L804.9 1147.1L806.8 1150.6L808.8 1154.0L810.8 1157.4L812.7 1160.6L814.7 1163.9L816.7 1167.0L818.6 1170.1L820.6 1173.1L822.6 1176.1L824.5 1179.0L826.5 1181.9L828.5 1184.7L830.4 1187.4L832.4 1190.1L834.4 1192.8L836.3 1195.4L838.3 1197.9L840.2 1200.4L842.2 1202.9L844.2 1205.3L846.1 1207.7L848.1 1210.0L850.1 1212.3L852.0 1214.6L854.0 1216.8L856.0 1219.0L857.9 1221.1L859.9 1223.2L861.9 1225.2L863.8 1227.3L865.8 1229.3L867.8 1231.2L869.7 1233.2L871.7 1235.1L873.6 1236.9L875.6 1238.8L877.6 1240.6L879.5 1242.3L881.5 1244.1L883.5 1245.8L885.4 1247.5L887.4 1249.1L889.4 1250.8L891.3 1252.4L893.3 1254.0L895.3 1255.5L897.2 1257.1L899.2 1258.6L901.1 1260.1L903.1 1261.6L905.1 1263.0L907.0 1264.4L909.0 1265.8L911.0 1267.2L912.9 1268.6L914.9 1269.9L916.9 1271.3L918.8 1272.6L920.8 1273.8L922.8 1275.1L924.7 1276.4L926.7 1277.6L928.7 1278.8L930.6 1280.0L932.6 1281.2L934.5 1282.3L936.5 1283.5L938.5 1284.6L940.4 1285.7L942.4 1286.8L944.4 1287.9L946.3 1289.0L948.3 1290.1L950.3 1291.1L952.2 1292.1L954.2 1293.2L956.2 1294.2L958.1 1295.1L960.1 1296.1L962.0 1297.1L964.0 1298.0L966.0 1299.0L967.9 1299.9L969.9 1300.8L971.9 1301.7L973.8 1302.6L975.8 1303.5L977.8 1304.4L979.7 1305.2L981.7 1306.1L983.7 1306.9L985.6 1307.8L987.6 1308.6L989.6 1309.4L991.5 1310.2L993.5 1311.0L995.4 1311.8L997.4 1312.6L999.4 1313.3L1001.3 1314.1L1003.3 1314.9L1005.3 1315.6L1007.2 1316.3L1009.2 1317.1L1011.2 1317.8L1013.1 1318.5L1015.1 1319.2L1017.1 1319.9L1019.0 1320.6L1021.0 1321.3L1023.0 1322.0L1024.9 1322.7L1026.9 1323.3L1028.8 1324.0L1030.8 1324.6L1032.8 1325.3L1034.7 1325.9L1036.7 1326.6L1038.7 1327.2L1040.6 1327.8L1042.6 1328.4L1044.6 1329.0L1046.5 1329.6L1048.5 1330.2L1050.5 1330.8L1052.4 1331.4L1054.4 1332.0L1056.3 1332.5L1058.3 1333.1L1060.3 1333.7L1062.2 1334.2L1064.2 1334.8L1066.2 1335.3L1068.1 1335.9L1070.1 1336.4L1072.1 1336.9L1074.0 1337.5L1076.0 1338.0L1078.0 1338.5L1079.9 1339.0L1081.9 1339.5L1083.9 1340.0L1085.8 1340.5L1087.8 1341.0L1089.7 1341.5L1091.7 1342.0L1093.7 1342.5L1095.6 1343.0L1097.6 1343.5L1099.6 1343.9L1101.5 1344.4L1103.5 1344.9" stroke="#77AC30"/>
<path d="M160.5 1345.3L162.5 1344.8L164.4 1344.4L166.4 1343.9L168.4 1343.5L170.3 1343.0L172.3 1342.5L174.3 1342.0L176.2 1341.6L178.2 1341.1L180.1 1340.6L182.1 1340.1L184.1 1339.6L186.0 1339.1L188.0 1338.6L190.0 1338.1L191.9 1337.5L193.9 1337.0L195.9 1336.5L197.8 1335.9L199.8 1335.4L201.8 1334.9L203.7 1334.3L205.7 1333.8L207.6 1333.2L209.6 1332.6L211.6 1332.1L213.5 1331.5L215.5 1330.9L217.5 1330.3L219.4 1329.7L221.4 1329.1L223.4 1328.5L225.3 1327.9L227.3 1327.2L229.3 1326.6L231.2 1326.0L233.2 1325.3L235.2 1324.7L237.1 1324.0L239.1 1323.4L241.0 1322.7L243.0 1322.0L245.0 1321.3L246.9 1320.7L248.9 1320.0L250.9 1319.2L252.8 1318.5L254.8 1317.8L256.8 1317.1L258.7 1316.3L260.7 1315.6L262.7 1314.8L264.6 1314.1L266.6 1313.3L268.6 1312.5L270.5 1311.7L272.5 1310.9L274.4 1310.1L276.4 1309.3L278.4 1308.4L280.3 1307.6L282.3 1306.8L284.3 1305.9L286.2 1305.0L288.2 1304.1L290.2 1303.2L292.1 1302.3L294.1 1301.4L296.1 1300.5L298.0 1299.6L300.0 1298.6L301.9 1297.6L303.9 1296.7L305.9 1295.7L307.8 1294.7L309.8 1293.7L311.8 1292.6L313.7 1291.6L315.7 1290.6L317.7 1289.5L319.6 1288.4L321.6 1287.3L323.6 1286.2L325.5 1285.1L327.5 1283.9L329.5 1282.8L331.4 1281.6L333.4 1280.4L335.3 1279.2L337.3 1278.0L339.3 1276.7L341.2 1275.5L343.2 1274.2L345.2 1272.9L347.1 1271.6L349.1 1270.3L351.1 1268.9L353.0 1267.5L355.0 1266.1L357.0 1264.7L358.9 1263.3L360.9 1261.8L362.9 1260.3L364.8 1258.8L366.8 1257.3L368.7 1255.8L370.7 1254.2L372.7 1252.6L374.6 1251.0L376.6 1249.3L378.6 1247.6L380.5 1245.9L382.5 1244.2L384.5 1242.4L386.4 1240.6L388.4 1238.8L390.4 1237.0L392.3 1235.1L394.3 1233.2L396.2 1231.2L398.2 1229.3L400.2 1227.2L402.1 1225.2L404.1 1223.1L406.1 1221.0L408.0 1218.8L410.0 1216.6L412.0 1214.4L413.9 1212.1L415.9 1209.8L417.9 1207.4L419.8 1205.0L421.8 1202.6L423.8 1200.1L425.7 1197.6L427.7 1195.0L429.6 1192.3L431.6 1189.7L433.6 1186.9L435.5 1184.1L437.5 1181.3L439.5 1178.4L441.4 1175.4L443.4 1172.4L445.4 1169.4L447.3 1166.2L449.3 1163.0L451.3 1159.8L453.2 1156.4L455.2 1153.0L457.2 1149.6L459.1 1146.0L461.1 1142.4L463.0 1138.8L465.0 1135.0L467.0 1131.2L468.9 1127.2L470.9 1123.2L472.9 1119.1L474.8 1115.0L475.2 1114.1L475.6 1113.3L476.0 1112.4L476.4 1111.6L476.8 1110.7L477.2 1109.8L477.6 1109.0L478.0 1108.1L478.4 1107.2L478.8 1106.3L479.2 1105.4L479.5 1104.6L479.9 1103.7L480.3 1102.8L480.7 1101.9L481.1 1101.0L481.5 1100.1L481.9 1099.2L482.3 1098.2L482.7 1097.3L483.1 1096.4L483.5 1095.5L483.9 1094.5L484.3 1093.6L484.7 1092.7L485.0 1091.7L485.4 1090.8L485.8 1089.8L486.2 1088.9L486.6 1087.9L487.0 1087.0L487.4 1086.0L487.8 1085.0L488.2 1084.0L488.6 1083.1L489.0 1082.1L489.4 1081.1L489.8 1080.1L490.2 1079.1L490.6 1078.1L490.9 1077.1L491.3 1076.1L491.7 1075.1L492.1 1074.0L492.5 1073.0L492.9 1072.0L493.3 1070.9L493.7 1069.9L494.1 1068.9L494.5 1067.8L494.9 1066.8L495.3 1065.7L495.7 1064.6L496.1 1063.6L496.4 1062.5L496.8 1061.4L497.2 1060.3L497.6 1059.3L498.0 1058.2L498.4 1057.1L498.8 1056.0L499.2 1054.9L499.6 1053.8L500.0 1052.6L500.4 1051.5L500.8 1050.4L501.2 1049.3L501.6 1048.1L501.9 1047.0L502.3 1045.8L502.7 1044.7L503.1 1043.5L503.5 1042.4L503.9 1041.2L504.3 1040.0L504.7 1038.8L505.1 1037.7L505.5 1036.5L505.9 1035.3L506.3 1034.1L506.7 1032.9L507.1 1031.7L507.4 1030.4L507.8 1029.2L508.2 1028.0L508.6 1026.8L509.0 1025.5L509.4 1024.3L509.8 1023.0L510.2 1021.8L510.6 1020.5L511.0 1019.2L511.4 1018.0L511.8 1016.7L512.2 1015.4L512.6 1014.1L512.9 1012.8L513.3 1011.5L513.7 1010.2L514.1 1008.9L514.5 1007.6L514.9 1006.2L515.3 1004.9L515.7 1003.6L516.1 1002.2L516.5 1000.9L516.9 999.5L517.3 998.1L517.7 996.8L518.1 995.4L518.4 994.0L518.8 992.6L519.2 991.2L519.6 989.8L520.0 988.4L520.4 987.0L520.8 985.6L521.2 984.1L521.6 982.7L522.0 981.2L522.4 979.8L522.8 978.3L523.2 976.9L523.6 975.4L523.9 973.9L524.3 972.4L524.7 970.9L525.1 969.4L525.5 967.9L525.9 966.4L526.3 964.9L526.7 963.4L527.1 961.8L527.5 960.3L527.9 958.7L528.3 957.2L528.7 955.6L529.1 954.1L529.4 952.5L529.8 950.9L530.2 949.3L530.6 947.7L531.0 946.1L531.4 944.5L531.8 942.8L532.2 941.2L532.6 939.6L533.0 937.9L533.4 936.3L533.8 934.6L534.2 932.9L534.6 931.2L534.9 929.5L535.3 927.8L535.7 926.1L536.1 924.4L536.5 922.7L536.9 921.0L537.3 919.2L537.7 917.5L538.1 915.7L538.5 914.0L538.9 912.2L539.3 910.4L539.7 908.6L540.1 906.8L540.5 905.0L540.8 903.2L541.2 901.4L541.6 899.5L542.0 897.7L542.4 895.8L542.8 894.0L543.2 892.1L543.6 890.2L544.0 888.3L544.4 886.4L544.8 884.5L545.2 882.6L545.6 880.7L546.0 878.7L546.3 876.8L546.7 874.8L547.1 872.9L547.5 870.9L547.9 868.9L548.3 866.9L548.7 864.9L549.1 862.9L549.5 860.8L549.9 858.8L550.3 856.8L550.7 854.7L551.1 852.6L551.5 850.6L551.8 848.5L552.2 846.4L552.6 844.2L553.0 842.1L553.4 840.0L553.8 837.8L554.2 835.7L554.6 833.5L555.0 831.3L555.4 829.1L555.8 826.9L556.2 824.7L556.6 822.5L557.0 820.3L557.3 818.0L557.7 815.7L558.1 813.5L558.5 811.2L558.9 808.9L559.3 806.6L559.7 804.3L560.1 801.9L560.5 799.6L560.9 797.2L561.3 794.8L561.7 792.4L562.1 790.0L562.5 787.6L562.8 785.2L563.2 782.8L563.6 780.3L564.0 777.8L564.4 775.3L564.8 772.8L565.2 770.3L565.6 767.8L566.0 765.3L566.4 762.7L566.8 760.1L567.2 757.5L567.6 754.9L568.0 752.3L568.3 749.7L568.7 747.0L569.1 744.4L569.5 741.7L569.9 739.0L570.3 736.3L570.7 733.6L571.1 730.8L571.5 728.1L571.9 725.3L572.3 722.5L572.7 719.7L573.1 716.8L573.5 714.0L573.8 711.1L574.2 708.2L574.6 705.3L575.0 702.4L575.4 699.5L575.8 696.5L576.2 693.5L576.6 690.5L577.0 687.5L577.4 684.5L577.8 681.4L578.2 678.3L578.6 675.2L579.0 672.1L579.3 668.9L579.7 665.8L580.1 662.6L580.5 659.4L580.9 656.1L581.3 652.9L581.7 649.6L582.1 646.3L582.5 643.0L582.9 639.6L583.3 636.2L583.7 632.8L584.1 629.4L584.5 626.0L584.9 622.5L585.2 619.0L585.6 615.5L586.0 611.9L586.4 608.3L586.8 604.7L587.2 601.1L587.6 597.4L588.0 593.8L588.4 590.0L588.8 586.3L589.2 582.5L589.6 578.7L590.0 574.9L590.4 571.0L590.7 567.1L591.1 563.2L591.5 559.3L591.9 555.3L592.3 551.3L592.7 547.2L593.1 543.2L593.5 539.1L593.9 534.9L594.3 530.8L594.7 526.6L595.1 522.3L595.5 518.1L595.9 513.8L596.2 509.4L596.6 505.1L597.0 500.7L597.4 496.3L597.8 491.8L598.2 487.3L598.6 482.8L599.0 478.2L599.4 473.6L599.8 469.0L600.2 464.4L600.6 459.7L601.0 455.0L601.4 450.2L601.7 445.4L602.1 440.6L602.5 435.8L602.9 430.9L603.3 426.0L603.7 421.1L604.1 416.2L604.5 411.2L604.9 406.2L605.3 401.2L605.7 396.1L606.1 391.0L606.5 385.9L606.9 380.8L607.2 375.7L607.6 370.5L608.0 365.4L608.4 360.2L608.8 355.0L609.2 349.8L609.6 344.6L610.0 339.4L610.4 334.1L610.8 328.9L611.2 323.7L611.6 318.5L612.0 313.3L612.4 308.0L612.7 302.8L613.1 297.7L613.5 292.5L613.9 287.3L614.3 282.2L614.7 277.1L615.1 272.0L615.5 267.0L615.9 262.0L616.3 257.0L616.7 252.1L617.1 247.2L617.5 242.4L617.9 237.7L618.2 233.0L618.6 228.3L619.0 223.8L619.4 219.3L619.8 214.9L620.2 210.5L620.6 206.3L621.0 202.1L621.4 198.1L621.8 194.1L622.2 190.2L622.6 186.5L623.0 182.9L623.4 179.3L623.7 176.0L624.1 172.7L624.5 169.5L624.9 166.5L625.3 163.7L625.7 160.9L626.1 158.4L626.5 155.9L626.9 153.7L627.3 151.5L627.7 149.6L628.1 147.8L628.5 146.1L628.9 144.7L629.2 143.4L629.6 142.2L630.0 141.3L630.4 140.5L630.8 139.8L631.2 139.4L631.6 139.1L632.0 139.1L632.4 139.1L632.8 139.4L633.2 139.8L633.6 140.5L634.0 141.3L634.4 142.2L634.8 143.4L635.1 144.7L635.5 146.1L635.9 147.8L636.3 149.6L636.7 151.5L637.1 153.7L637.5 155.9L637.9 158.4L638.3 160.9L638.7 163.7L639.1 166.5L639.5 169.5L639.9 172.7L640.3 176.0L640.6 179.3L641.0 182.9L641.4 186.5L641.8 190.2L642.2 194.1L642.6 198.1L643.0 202.1L643.4 206.3L643.8 210.5L644.2 214.9L644.6 219.3L645.0 223.8L645.4 228.3L645.8 233.0L646.1 237.7L646.5 242.4L646.9 247.2L647.3 252.1L647.7 257.0L648.1 262.0L648.5 267.0L648.9 272.0L649.3 277.1L649.7 282.2L650.1 287.3L650.5 292.5L650.9 297.7L651.3 302.8L651.6 308.0L652.0 313.3L652.4 318.5L652.8 323.7L653.2 328.9L653.6 334.1L654.0 339.4L654.4 344.6L654.8 349.8L655.2 355.0L655.6 360.2L656.0 365.4L656.4 370.5L656.8 375.7L657.1 380.8L657.5 385.9L657.9 391.0L658.3 396.1L658.7 401.2L659.1 406.2L659.5 411.2L659.9 416.2L660.3 421.1L660.7 426.0L661.1 430.9L661.5 435.8L661.9 440.6L662.3 445.4L662.6 450.2L663.0 455.0L663.4 459.7L663.8 464.4L664.2 469.0L664.6 473.6L665.0 478.2L665.4 482.8L665.8 487.3L666.2 491.8L666.6 496.3L667.0 500.7L667.4 505.1L667.8 509.4L668.1 513.8L668.5 518.1L668.9 522.3L669.3 526.6L669.7 530.8L670.1 534.9L670.5 539.1L670.9 543.2L671.3 547.2L671.7 551.3L672.1 555.3L672.5 559.3L672.9 563.2L673.3 567.1L673.6 571.0L674.0 574.9L674.4 578.7L674.8 582.5L675.2 586.3L675.6 590.0L676.0 593.8L676.4 597.4L676.8 601.1L677.2 604.7L677.6 608.3L678.0 611.9L678.4 615.5L678.8 619.0L679.1 622.5L679.5 626.0L679.9 629.4L680.3 632.8L680.7 636.2L681.1 639.6L681.5 643.0L681.9 646.3L682.3 649.6L682.7 652.9L683.1 656.1L683.5 659.4L683.9 662.6L684.3 665.8L684.7 668.9L685.0 672.1L685.4 675.2L685.8 678.3L686.2 681.4L686.6 684.5L687.0 687.5L687.4 690.5L687.8 693.5L688.2 696.5L688.6 699.5L689.0 702.4L689.4 705.3L689.8 708.2L690.2 711.1L690.5 714.0L690.9 716.8L691.3 719.7L691.7 722.5L692.1 725.3L692.5 728.1L692.9 730.8L693.3 733.6L693.7 736.3L694.1 739.0L694.5 741.7L694.9 744.4L695.3 747.0L695.7 749.7L696.0 752.3L696.4 754.9L696.8 757.5L697.2 760.1L697.6 762.7L698.0 765.3L698.4 767.8L698.8 770.3L699.2 772.8L699.6 775.3L700.0 777.8L700.4 780.3L700.8 782.8L701.2 785.2L701.5 787.6L701.9 790.0L702.3 792.4L702.7 794.8L703.1 797.2L703.5 799.6L703.9 801.9L704.3 804.3L704.7 806.6L705.1 808.9L705.5 811.2L705.9 813.5L706.3 815.7L706.7 818.0L707.0 820.3L707.4 822.5L707.8 824.7L708.2 826.9L708.6 829.1L709.0 831.3L709.4 833.5L709.8 835.7L710.2 837.8L710.6 840.0L711.0 842.1L711.4 844.2L711.8 846.4L712.2 848.5L712.5 850.6L712.9 852.6L713.3 854.7L713.7 856.8L714.1 858.8L714.5 860.8L714.9 862.9L715.3 864.9L715.7 866.9L716.1 868.9L716.5 870.9L716.9 872.9L717.3 874.8L717.7 876.8L718.0 878.7L718.4 880.7L718.8 882.6L719.2 884.5L719.6 886.4L720.0 888.3L720.4 890.2L720.8 892.1L721.2 894.0L721.6 895.8L722.0 897.7L722.4 899.5L722.8 901.4L723.2 903.2L723.5 905.0L723.9 906.8L724.3 908.6L724.7 910.4L725.1 912.2L725.5 914.0L725.9 915.7L726.3 917.5L726.7 919.2L727.1 921.0L727.5 922.7L727.9 924.4L728.3 926.1L728.7 927.8L729.1 929.5L729.4 931.2L729.8 932.9L730.2 934.6L730.6 936.3L731.0 937.9L731.4 939.6L731.8 941.2L732.2 942.8L732.6 944.5L733.0 946.1L733.4 947.7L733.8 949.3L734.2 950.9L734.6 952.5L734.9 954.1L735.3 955.6L735.7 957.2L736.1 958.7L736.5 960.3L736.9 961.8L737.3 963.4L737.7 964.9L738.1 966.4L738.5 967.9L738.9 969.4L739.3 970.9L739.7 972.4L740.1 973.9L740.4 975.4L740.8 976.9L741.2 978.3L741.6 979.8L742.0 981.2L742.4 982.7L742.8 984.1L743.2 985.6L743.6 987.0L744.0 988.4L744.4 989.8L744.8 991.2L745.2 992.6L745.6 994.0L745.9 995.4L746.3 996.8L746.7 998.1L747.1 999.5L747.5 1000.9L747.9 1002.2L748.3 1003.6L748.7 1004.9L749.1 1006.2L749.5 1007.6L749.9 1008.9L750.3 1010.2L750.7 1011.5L751.1 1012.8L751.4 1014.1L751.8 1015.4L752.2 1016.7L752.6 1018.0L753.0 1019.2L753.4 1020.5L753.8 1021.8L754.2 1023.0L754.6 1024.3L755.0 1025.5L755.4 1026.8L755.8 1028.0L756.2 1029.2L756.6 1030.4L756.9 1031.7L757.3 1032.9L757.7 1034.1L758.1 1035.3L758.5 1036.5L758.9 1037.7L759.3 1038.8L759.7 1040.0L760.1 1041.2L760.5 1042.4L760.9 1043.5L761.3 1044.7L761.7 1045.8L762.1 1047.0L762.4 1048.1L762.8 1049.3L763.2 1050.4L763.6 1051.5L764.0 1052.6L764.4 1053.8L764.8 1054.9L765.2 1056.0L765.6 1057.1L766.0 1058.2L766.4 1059.3L766.8 1060.3L767.2 1061.4L767.6 1062.5L767.9 1063.6L768.3 1064.6L768.7 1065.7L769.1 1066.8L769.5 1067.8L769.9 1068.9L770.3 1069.9L770.7 1070.9L771.1 1072.0L771.5 1073.0L771.9 1074.0L772.3 1075.1L772.7 1076.1L773.1 1077.1L773.5 1078.1L773.8 1079.1L774.2 1080.1L774.6 1081.1L775.0 1082.1L775.4 1083.1L775.8 1084.0L776.2 1085.0L776.6 1086.0L777.0 1087.0L777.4 1087.9L777.8 1088.9L778.2 1089.8L778.6 1090.8L779.0 1091.7L779.3 1092.7L779.7 1093.6L780.1 1094.5L780.5 1095.5L780.9 1096.4L781.3 1097.3L781.7 1098.2L782.1 1099.2L782.5 1100.1L782.9 1101.0L783.3 1101.9L783.7 1102.8L784.1 1103.7L784.5 1104.6L784.8 1105.4L785.2 1106.3L785.6 1107.2L786.0 1108.1L786.4 1109.0L786.8 1109.8L787.2 1110.7L787.6 1111.6L788.0 1112.4L788.4 1113.3L788.8 1114.1L789.2 1115.0L791.1 1119.1L793.1 1123.2L795.1 1127.2L797.0 1131.2L799.0 1135.0L801.0 1138.8L802.9 1142.4L804.9 1146.0L806.8 1149.6L808.8 1153.0L810.8 1156.4L812.7 1159.8L814.7 1163.0L816.7 1166.2L818.6 1169.4L820.6 1172.4L822.6 1175.4L824.5 1178.4L826.5 1181.3L828.5 1184.1L830.4 1186.9L832.4 1189.7L834.4 1192.3L836.3 1195.0L838.3 1197.6L840.2 1200.1L842.2 1202.6L844.2 1205.0L846.1 1207.4L848.1 1209.8L850.1 1212.1L852.0 1214.4L854.0 1216.6L856.0 1218.8L857.9 1221.0L859.9 1223.1L861.9 1225.2L863.8 1227.2L865.8 1229.3L867.8 1231.2L869.7 1233.2L871.7 1235.1L873.6 1237.0L875.6 1238.8L877.6 1240.6L879.5 1242.4L881.5 1244.2L883.5 1245.9L885.4 1247.6L887.4 1249.3L889.4 1251.0L891.3 1252.6L893.3 1254.2L895.3 1255.8L897.2 1257.3L899.2 1258.8L901.1 1260.3L903.1 1261.8L905.1 1263.3L907.0 1264.7L909.0 1266.1L911.0 1267.5L912.9 1268.9L914.9 1270.3L916.9 1271.6L918.8 1272.9L920.8 1274.2L922.8 1275.5L924.7 1276.7L926.7 1278.0L928.7 1279.2L930.6 1280.4L932.6 1281.6L934.5 1282.8L936.5 1283.9L938.5 1285.1L940.4 1286.2L942.4 1287.3L944.4 1288.4L946.3 1289.5L948.3 1290.6L950.3 1291.6L952.2 1292.6L954.2 1293.7L956.2 1294.7L958.1 1295.7L960.1 1296.7L962.0 1297.6L964.0 1298.6L966.0 1299.6L967.9 1300.5L969.9 1301.4L971.9 1302.3L973.8 1303.2L975.8 1304.1L977.8 1305.0L979.7 1305.9L981.7 1306.8L983.7 1307.6L985.6 1308.4L987.6 1309.3L989.6 1310.1L991.5 1310.9L993.5 1311.7L995.4 1312.5L997.4 1313.3L999.4 1314.1L1001.3 1314.8L1003.3 1315.6L1005.3 1316.3L1007.2 1317.1L1009.2 1317.8L1011.2 1318.5L1013.1 1319.2L1015.1 1320.0L1017.1 1320.7L1019.0 1321.3L1021.0 1322.0L1023.0 1322.7L1024.9 1323.4L1026.9 1324.0L1028.8 1324.7L1030.8 1325.3L1032.8 1326.0L1034.7 1326.6L1036.7 1327.2L1038.7 1327.9L1040.6 1328.5L1042.6 1329.1L1044.6 1329.7L1046.5 1330.3L1048.5 1330.9L1050.5 1331.5L1052.4 1332.1L1054.4 1332.6L1056.3 1333.2L1058.3 1333.8L1060.3 1334.3L1062.2 1334.9L1064.2 1335.4L1066.2 1335.9L1068.1 1336.5L1070.1 1337.0L1072.1 1337.5L1074.0 1338.1L1076.0 1338.6L1078.0 1339.1L1079.9 1339.6L1081.9 1340.1L1083.9 1340.6L1085.8 1341.1L1087.8 1341.6L1089.7 1342.0L1091.7 1342.5L1093.7 1343.0L1095.6 1343.5L1097.6 1343.9L1099.6 1344.4L1101.5 1344.8L1103.5 1345.3" stroke="#4DBEEE"/>
</g>
<g fill="none" stroke-width="5.5" stroke-linejoin="round" shape-rendering="crispEdges" clip-path="url(#cr)">
<path d="M1399.3 237.1L1401.2 237.8L1403.1 238.6L1405.0 239.3L1406.9 240.1L1408.9 240.9L1410.8 241.7L1412.7 242.5L1414.6 243.4L1416.5 244.2L1418.4 245.1L1420.3 246.0L1422.2 246.9L1424.1 247.9L1426.0 248.8L1427.9 249.8L1429.8 250.8L1431.7 251.7L1433.6 252.8L1435.5 253.8L1437.4 254.8L1439.3 255.9L1441.2 256.9L1443.2 258.0L1445.1 259.1L1447.0 260.2L1448.9 261.4L1450.8 262.5L1452.7 263.7L1454.6 264.8L1456.5 266.0L1458.4 267.2L1460.3 268.4L1462.2 269.6L1464.1 270.9L1466.0 272.1L1467.9 273.4L1469.8 274.6L1471.7 275.9L1473.6 277.2L1475.5 278.5L1477.5 279.8L1479.4 281.2L1481.3 282.5L1483.2 283.8L1485.1 285.2L1487.0 286.6L1488.9 288.0L1490.8 289.4L1492.7 290.8L1494.6 292.2L1496.5 293.6L1498.4 295.0L1500.3 296.5L1502.2 297.9L1504.1 299.4L1506.0 300.9L1507.9 302.3L1509.8 303.8L1511.8 305.3L1513.7 306.8L1515.6 308.4L1517.5 309.9L1519.4 311.4L1521.3 313.0L1523.2 314.5L1525.1 316.1L1527.0 317.7L1528.9 319.2L1530.8 320.8L1532.7 322.4L1534.6 324.0L1536.5 325.6L1538.4 327.2L1540.3 328.8L1542.2 330.5L1544.2 332.1L1546.1 333.8L1548.0 335.4L1549.9 337.1L1551.8 338.7L1553.7 340.4L1555.6 342.1L1557.5 343.8L1559.4 345.4L1561.3 347.1L1563.2 348.8L1565.1 350.5L1567.0 352.2L1568.9 354.0L1570.8 355.7L1572.7 357.4L1574.6 359.2L1576.5 360.9L1578.5 362.6L1580.4 364.4L1582.3 366.1L1584.2 367.9L1586.1 369.7L1588.0 371.4L1589.9 373.2L1591.8 375.0L1593.7 376.8L1595.6 378.5L1597.5 380.3L1599.4 382.1L1601.3 383.9L1603.2 385.7L1605.1 387.5L1607.0 389.4L1608.9 391.2L1610.8 393.0L1612.8 394.8L1614.7 396.6L1616.6 398.5L1618.5 400.3L1620.4 402.1L1622.3 404.0L1624.2 405.8L1626.1 407.6L1628.0 409.5L1629.9 411.3L1631.8 413.2L1633.7 415.1L1635.6 416.9L1637.5 418.8L1639.4 420.6L1641.3 422.5L1643.2 424.4L1645.1 426.2L1647.1 428.1L1649.0 430.0L1650.9 431.9L1652.8 433.8L1654.7 435.6L1656.6 437.5L1658.5 439.4L1660.4 441.3L1662.3 443.2L1664.2 445.1L1666.1 447.0L1668.0 448.9L1669.9 450.8L1671.8 452.7L1673.7 454.6L1675.6 456.5L1677.5 458.4L1679.4 460.3L1681.4 462.2L1683.3 464.1L1685.2 466.0L1687.1 467.9L1689.0 469.8L1690.9 471.7L1692.8 473.6L1694.7 475.5L1696.6 477.5L1698.5 479.4L1700.4 481.3L1702.3 483.2L1704.2 485.1L1706.1 487.0L1708.0 489.0L1709.9 490.9L1711.8 492.8L1713.7 494.7L1715.7 496.6L1717.6 498.6L1719.5 500.5L1721.4 502.4L1723.3 504.3L1725.2 506.3L1727.1 508.2L1729.0 510.1L1730.9 512.0L1732.8 514.0L1734.7 515.9L1736.6 517.8L1738.5 519.7L1740.4 521.7L1742.3 523.6L1744.2 525.5L1746.1 527.4L1748.1 529.3L1750.0 531.3L1751.9 533.2L1753.8 535.1L1755.7 537.0L1757.6 539.0L1759.5 540.9L1761.4 542.8L1763.3 544.7L1765.2 546.7L1767.1 548.6L1769.0 550.5L1770.9 552.4L1772.8 554.4L1774.7 556.3L1776.6 558.2L1778.5 560.1L1780.4 562.0L1782.4 564.0L1784.3 565.9L1786.2 567.8L1788.1 569.7L1790.0 571.6L1791.9 573.5L1793.8 575.5L1795.7 577.4L1797.6 579.3L1799.5 581.2L1801.4 583.1L1803.3 585.0L1805.2 586.9L1807.1 588.9L1809.0 590.8L1810.9 592.7L1812.8 594.6L1814.7 596.5L1816.7 598.4L1818.6 600.3L1820.5 602.2L1822.4 604.1L1824.3 606.0L1826.2 607.9L1828.1 609.8L1830.0 611.7L1831.9 613.6L1833.8 615.5L1835.7 617.4L1837.6 619.3L1839.5 621.2L1841.4 623.1L1843.3 625.0L1845.2 626.9L1847.1 628.8L1849.0 630.7L1851.0 632.6L1852.9 634.5L1854.8 636.4L1856.7 638.3L1858.6 640.2L1860.5 642.1L1862.4 644.0L1864.3 645.9L1866.2 647.7L1868.1 649.6L1870.0 651.5L1871.9 653.4L1873.8 655.3L1875.7 657.2L1877.6 659.1L1879.5 660.9L1881.4 662.8L1883.3 664.7L1885.3 666.6L1887.2 668.4L1889.1 670.3L1891.0 672.2L1892.9 674.1L1894.8 676.0L1896.7 677.8L1898.6 679.7L1900.5 681.6L1902.4 683.4L1904.3 685.3L1906.2 687.2L1908.1 689.0L1910.0 690.9L1911.9 692.8L1913.8 694.6L1915.7 696.5L1917.7 698.4L1919.6 700.2L1921.5 702.1L1923.4 704.0L1925.3 705.8L1927.2 707.7L1929.1 709.5L1931.0 711.4L1932.9 713.3L1934.8 715.1L1936.7 717.0L1938.6 718.8L1940.5 720.7L1942.4 722.5L1944.3 724.4L1946.2 726.3L1948.1 728.1L1950.0 730.0L1952.0 731.8L1953.9 733.7L1955.8 735.5L1957.7 737.4L1959.6 739.2L1961.5 741.1L1963.4 742.9L1965.3 744.7L1967.2 746.6L1969.1 748.4L1971.0 750.3L1972.9 752.1L1974.8 754.0L1976.7 755.8L1978.6 757.7L1980.5 759.5L1982.4 761.3L1984.3 763.2L1986.3 765.0L1988.2 766.9L1990.1 768.7L1992.0 770.5L1993.9 772.4L1995.8 774.2L1997.7 776.1L1999.6 777.9L2001.5 779.7L2003.4 781.6L2005.3 783.4L2007.2 785.2L2009.1 787.1L2011.0 788.9L2012.9 790.7L2014.8 792.6L2016.7 794.4L2018.6 796.2L2020.6 798.1L2022.5 799.9L2024.4 801.7L2026.3 803.6L2028.2 805.4L2030.1 807.2L2032.0 809.1L2033.9 810.9L2035.8 812.7L2037.7 814.6L2039.6 816.4L2041.5 818.2L2043.4 820.0L2045.3 821.9L2047.2 823.7L2049.1 825.5L2051.0 827.4L2052.9 829.2L2054.9 831.0L2056.8 832.8L2058.7 834.7L2060.6 836.5L2062.5 838.3L2064.4 840.2L2066.3 842.0L2068.2 843.8L2070.1 845.6L2072.0 847.5L2073.9 849.3L2075.8 851.1L2077.7 852.9L2079.6 854.8L2081.5 856.6L2083.4 858.4L2085.3 860.2L2087.3 862.1L2089.2 863.9L2091.1 865.7L2093.0 867.5L2094.9 869.4L2096.8 871.2L2098.7 873.0L2100.6 874.9L2102.5 876.7L2104.4 878.6L2106.3 880.5L2108.2 882.3L2110.1 884.2L2112.0 886.1L2113.9 888.0L2115.8 889.8L2117.7 891.7L2119.6 893.6L2121.6 895.4L2123.5 897.3L2125.4 899.2L2127.3 901.1L2129.2 902.9L2131.1 904.8L2133.0 906.7L2134.9 908.5L2136.8 910.4L2138.7 912.3L2140.6 914.1L2142.5 916.0L2144.4 917.9L2146.3 919.8L2148.2 921.6L2150.1 923.5L2152.0 925.4L2153.9 927.2L2155.9 929.1L2157.8 931.0L2159.7 932.9L2161.6 934.7L2163.5 936.6L2165.4 938.5L2167.3 940.4L2169.2 942.2L2171.1 944.1L2173.0 946.0L2174.9 947.9L2176.8 949.7L2178.7 951.6L2180.6 953.5L2182.5 955.3L2184.4 957.2L2186.3 959.1L2188.2 961.0L2190.2 962.8L2192.1 964.7L2194.0 966.6L2195.9 968.4L2197.8 970.3L2199.7 972.2L2201.6 974.0L2203.5 975.8L2205.4 977.7L2207.3 979.5L2209.2 981.3L2211.1 983.1L2213.0 984.9L2214.9 986.8L2216.8 988.6L2218.7 990.4L2220.6 992.2L2222.5 994.0L2224.5 995.8L2226.4 997.7L2228.3 999.5L2230.2 1001.3L2232.1 1003.1L2234.0 1004.9L2235.9 1006.7L2237.8 1008.5L2239.7 1010.4L2241.6 1012.2L2243.5 1014.0L2245.4 1015.8L2247.3 1017.6L2249.2 1019.4L2251.1 1021.2L2253.0 1023.0L2254.9 1024.8L2256.9 1026.6L2258.8 1028.4L2260.7 1030.2L2262.6 1032.0L2264.5 1033.8L2266.4 1035.6L2268.3 1037.4L2270.2 1039.2L2272.1 1041.0L2274.0 1042.8L2275.9 1044.6L2277.8 1046.4L2279.7 1048.2L2281.6 1050.0L2283.5 1051.8L2285.4 1053.6L2287.3 1055.4L2289.2 1057.1L2291.2 1058.9L2293.1 1060.7L2295.0 1062.5L2296.9 1064.3L2298.8 1066.0L2300.7 1067.8L2302.6 1069.6L2304.5 1071.4L2306.4 1073.1L2308.3 1074.9L2310.2 1076.6L2312.1 1078.3L2314.0 1079.9L2315.9 1081.6L2317.8 1083.2L2319.7 1084.8L2321.6 1086.5L2323.5 1088.1L2325.5 1089.7L2327.4 1091.3L2329.3 1093.0L2331.2 1094.5L2333.1 1096.1L2335.0 1097.6L2336.9 1099.1L2338.8 1100.6L2340.7 1102.2L2342.6 1103.8L2344.5 1105.6L2346.4 1107.3L2348.3 1109.0L2350.2 1110.7" stroke="#0072BD"/>
<path d="M1399.3 251.6L1400.2 252.1L1401.1 252.7L1401.9 253.3L1402.8 253.9L1403.7 254.4L1404.6 255.0L1405.4 255.6L1406.3 256.2L1407.2 256.8L1408.0 257.4L1408.9 258.0L1409.8 258.7L1410.7 259.3L1411.5 259.9L1412.4 260.6L1413.3 261.2L1414.1 261.9L1415.0 262.5L1415.9 263.2L1416.8 263.8L1417.6 264.5L1418.5 265.2L1419.4 265.9L1420.2 266.6L1421.1 267.3L1422.0 268.0L1422.9 268.7L1423.7 269.4L1424.6 270.2L1425.5 270.9L1426.3 271.6L1427.2 272.4L1428.1 273.1L1429.0 273.9L1429.8 274.7L1430.7 275.4L1431.6 276.2L1432.4 277.0L1433.3 277.8L1434.2 278.6L1435.1 279.4L1435.9 280.2L1436.8 281.1L1437.7 281.9L1438.6 282.7L1439.4 283.6L1440.3 284.4L1441.2 285.3L1442.0 286.2L1442.9 287.1L1443.8 287.9L1444.7 288.8L1445.5 289.7L1446.4 290.7L1447.3 291.6L1448.1 292.5L1449.0 293.4L1449.9 294.4L1450.8 295.3L1451.6 296.3L1452.5 297.2L1453.4 298.2L1454.2 299.2L1455.1 300.2L1456.0 301.2L1456.9 302.2L1457.7 303.2L1458.6 304.2L1459.5 305.3L1460.3 306.3L1461.2 307.4L1462.1 308.4L1463.0 309.5L1463.8 310.6L1464.7 311.7L1465.6 312.7L1466.4 313.9L1467.3 315.0L1468.2 316.1L1469.1 317.2L1469.9 318.3L1470.8 319.5L1471.7 320.6L1472.6 321.8L1473.4 323.0L1474.3 324.2L1475.2 325.4L1476.0 326.6L1476.9 327.8L1477.8 329.0L1478.7 330.2L1479.5 331.4L1480.4 332.7L1481.3 333.9L1482.1 335.2L1483.0 336.5L1483.9 337.8L1484.8 339.0L1485.6 340.3L1486.5 341.7L1487.4 343.0L1488.2 344.3L1489.1 345.6L1490.0 347.0L1490.9 348.3L1491.7 349.7L1492.6 351.1L1493.5 352.5L1494.3 353.9L1495.2 355.3L1496.1 356.7L1497.0 358.1L1497.8 359.5L1498.7 361.0L1499.6 362.4L1500.4 363.9L1501.3 365.3L1502.2 366.8L1503.1 368.3L1503.9 369.8L1504.8 371.3L1505.7 372.8L1506.5 374.4L1507.4 375.9L1508.3 377.4L1509.2 379.0L1510.0 380.6L1510.9 382.1L1511.8 383.7L1512.7 385.3L1513.5 386.9L1514.4 388.5L1515.3 390.2L1516.1 391.8L1517.0 393.4L1517.9 395.1L1518.8 396.8L1519.6 398.4L1520.5 400.1L1521.4 401.8L1522.2 403.5L1523.1 405.2L1524.0 406.9L1524.9 408.7L1525.7 410.4L1526.6 412.2L1527.5 413.9L1528.3 415.7L1529.2 417.5L1530.1 419.3L1531.0 421.1L1531.8 422.9L1532.7 424.7L1533.6 426.5L1534.4 428.4L1535.3 430.2L1536.2 432.1L1537.1 433.9L1537.9 435.8L1538.8 437.7L1539.7 439.6L1540.5 441.5L1541.4 443.4L1542.3 445.4L1543.2 447.3L1544.0 449.2L1544.9 451.2L1545.8 453.2L1546.6 455.1L1547.5 457.1L1548.4 459.1L1549.3 461.1L1550.1 463.1L1551.0 465.2L1551.9 467.2L1552.8 469.2L1553.6 471.3L1554.5 473.3L1555.4 475.4L1556.2 477.5L1557.1 479.6L1558.0 481.7L1558.9 483.8L1559.7 485.9L1560.6 488.1L1561.5 490.2L1562.3 492.3L1563.2 494.5L1564.1 496.7L1565.0 498.8L1565.8 501.0L1566.7 503.2L1567.6 505.4L1568.4 507.7L1569.3 509.9L1570.2 512.1L1571.1 514.4L1571.9 516.6L1572.8 518.9L1573.7 521.1L1574.5 523.4L1575.4 525.7L1576.3 528.0L1577.2 530.3L1578.0 532.6L1578.9 535.0L1579.8 537.3L1580.6 539.6L1581.5 542.0L1582.4 544.4L1583.3 546.7L1584.1 549.1L1585.0 551.5L1585.9 553.9L1586.7 556.3L1587.6 558.7L1588.5 561.2L1589.4 563.6L1590.2 566.0L1591.1 568.5L1592.0 571.0L1592.9 573.4L1593.7 575.9L1594.6 578.4L1595.5 580.9L1596.3 583.4L1597.2 585.9L1598.1 588.4L1599.0 591.0L1599.8 593.5L1600.7 596.1L1601.6 598.6L1602.4 601.2L1603.3 603.8L1604.2 606.3L1605.1 608.9L1605.9 611.5L1606.8 614.1L1607.7 616.8L1608.5 619.4L1609.4 622.0L1610.3 624.7L1611.2 627.3L1612.0 630.0L1612.9 632.6L1613.8 635.3L1614.6 638.0L1615.5 640.7L1616.4 643.4L1617.3 646.1L1618.1 648.8L1619.0 651.5L1619.9 654.3L1620.7 657.0L1621.6 659.7L1622.5 662.5L1623.4 665.3L1624.2 668.0L1625.1 670.8L1626.0 673.6L1626.8 676.4L1627.7 679.2L1628.6 682.0L1629.5 684.8L1630.3 687.6L1631.2 690.5L1632.1 693.3L1633.0 696.1L1633.8 699.0L1634.7 701.8L1635.6 704.7L1636.4 707.6L1637.3 710.5L1638.2 713.3L1639.1 716.2L1639.9 719.1L1640.8 722.1L1641.7 725.0L1642.5 727.9L1643.4 730.8L1644.3 733.7L1645.2 736.7L1646.0 739.6L1646.9 742.6L1647.8 745.6L1648.6 748.5L1649.5 751.5L1650.4 754.5L1651.3 757.5L1652.1 760.5L1653.0 763.5L1653.9 766.5L1654.7 769.5L1655.6 772.5L1656.5 775.5L1657.4 778.5L1658.2 781.6L1659.1 784.6L1660.0 787.7L1660.8 790.7L1661.7 793.8L1662.6 796.8L1663.5 799.9L1664.3 803.0L1665.2 806.1L1666.1 809.2L1667.0 812.3L1667.8 815.4L1668.7 818.5L1669.6 821.6L1670.4 824.7L1671.3 827.8L1672.2 830.9L1673.1 834.1L1673.9 837.2L1674.8 840.3L1675.7 843.5L1676.5 846.6L1677.4 849.8L1678.3 852.9L1679.2 856.1L1680.0 859.3L1680.9 862.4L1681.8 865.6L1682.6 868.8L1683.5 872.0L1684.4 875.2L1685.3 878.4L1686.1 881.6L1687.0 884.8L1687.9 888.0L1688.7 891.2L1689.6 894.4L1690.5 897.6L1691.4 900.8L1692.2 904.1L1693.1 907.3L1694.0 910.5L1694.8 913.8L1695.7 917.0L1696.6 920.3L1697.5 923.5L1698.3 926.8L1699.2 930.0L1700.1 933.3L1700.9 936.5L1701.8 939.8L1702.7 943.1L1703.6 946.3L1704.4 949.6L1705.3 952.9L1706.2 956.2L1707.1 959.5L1707.9 962.7L1708.8 966.0L1709.7 969.3L1710.5 972.6L1711.4 975.9L1712.3 979.2L1713.2 982.5L1714.0 985.8L1714.9 989.1L1715.8 992.4L1716.6 995.7L1717.5 999.0L1718.4 1002.4L1719.3 1005.7L1720.1 1009.0L1721.0 1012.3L1721.9 1015.6L1722.7 1018.9L1723.6 1022.3L1724.5 1025.6L1725.4 1028.9L1726.2 1032.2L1727.1 1035.6L1728.0 1038.9L1728.8 1042.2L1729.7 1045.6L1730.6 1048.9L1731.5 1052.2L1732.3 1055.6L1733.2 1058.9L1734.1 1062.2L1734.9 1065.6L1735.8 1068.9L1736.7 1072.2L1737.6 1075.6L1738.4 1078.9L1739.3 1082.3L1740.2 1085.6L1741.0 1088.9L1741.9 1092.3L1742.8 1095.6L1743.7 1098.9L1744.5 1102.3L1745.4 1105.6L1746.3 1108.9L1747.2 1112.3L1748.0 1115.6L1748.9 1119.0L1749.8 1122.3L1750.6 1125.6L1751.5 1129.0L1752.4 1132.3L1753.3 1135.6L1754.1 1138.9L1755.0 1142.3L1755.9 1145.6L1756.7 1148.9L1757.6 1152.3L1758.5 1155.6L1759.4 1158.9L1760.2 1162.2L1761.1 1165.5L1762.0 1168.8L1762.8 1172.2L1763.7 1175.5L1764.6 1178.8L1765.5 1182.1L1766.3 1185.4L1767.2 1188.7L1768.1 1192.0L1768.9 1195.3L1769.8 1198.6L1770.7 1201.9L1771.6 1205.2L1772.4 1208.5L1773.3 1211.8L1774.2 1215.0L1775.0 1218.3L1775.9 1221.6L1776.8 1224.9L1777.7 1228.1L1778.5 1231.4L1779.4 1234.7L1780.3 1237.9L1781.1 1241.2L1782.0 1244.4L1782.9 1247.7L1783.8 1250.9L1784.7 1254.2L1785.6 1257.4L1786.5 1260.7L1787.4 1263.9L1788.3 1267.1L1789.1 1270.3L1790.0 1273.5L1790.9 1276.8L1791.8 1280.0L1792.7 1283.2L1793.6 1286.4L1794.5 1289.6L1795.2 1292.8L1795.8 1295.9L1796.5 1299.1L1797.1 1302.3L1797.8 1305.5L1798.4 1308.6L1799.0 1311.8L1799.7 1314.9L1800.8 1318.1L1802.1 1321.2L1803.4 1324.3L1804.7 1327.5L1806.0 1330.6L1807.1 1333.7L1808.2 1336.8L1809.3 1339.9L1810.3 1343.0L1811.4 1346.1L1812.2 1349.2L1812.8 1352.3L1813.3 1355.4L1813.8 1358.4L1814.6 1361.5L1815.8 1364.5L1817.0 1367.6L1818.2 1370.6L1819.0 1373.6L1819.7 1376.7L1820.4 1379.7L1821.0 1382.7L1821.7 1385.7L1822.4 1388.7L1823.1 1391.7L1823.8 1394.6L1824.5 1397.6L1825.2 1400.6L1826.5 1403.5L1827.4 1406.5L1828.2 1409.4L1829.1 1412.3L1830.0 1415.3L1830.8 1418.2L1831.7 1421.1L1832.6 1424.0L1833.5 1426.8L1834.3 1429.7" stroke="#EDB120"/>
<path d="M1399.3 255.3L1400.1 255.7L1400.8 256.1L1401.6 256.6L1402.3 257.0L1403.1 257.4L1403.8 257.9L1404.5 258.3L1405.3 258.8L1406.0 259.3L1406.8 259.8L1407.5 260.3L1408.3 260.7L1409.0 261.3L1409.8 261.8L1410.5 262.3L1411.3 262.8L1412.0 263.3L1412.7 263.9L1413.5 264.4L1414.2 265.0L1415.0 265.6L1415.7 266.1L1416.5 266.7L1417.2 267.3L1418.0 267.9L1418.7 268.5L1419.5 269.1L1420.2 269.7L1420.9 270.3L1421.7 271.0L1422.4 271.6L1423.2 272.3L1423.9 272.9L1424.7 273.6L1425.4 274.3L1426.2 274.9L1426.9 275.6L1427.7 276.3L1428.4 277.0L1429.1 277.7L1429.9 278.4L1430.6 279.2L1431.4 279.9L1432.1 280.6L1432.9 281.4L1433.6 282.1L1434.4 282.9L1435.1 283.6L1435.9 284.4L1436.6 285.2L1437.3 286.0L1438.1 286.8L1438.8 287.6L1439.6 288.4L1440.3 289.2L1441.1 290.0L1441.8 290.8L1442.6 291.7L1443.3 292.5L1444.1 293.4L1444.8 294.2L1445.5 295.1L1446.3 296.0L1447.0 296.9L1447.8 297.8L1448.5 298.7L1449.3 299.6L1450.0 300.5L1450.8 301.4L1451.5 302.3L1452.3 303.2L1453.0 304.2L1453.7 305.1L1454.5 306.1L1455.2 307.1L1456.0 308.0L1456.7 309.0L1457.5 310.0L1458.2 311.0L1459.0 312.0L1459.7 313.0L1460.5 314.0L1461.2 315.0L1461.9 316.0L1462.7 317.1L1463.4 318.1L1464.2 319.2L1464.9 320.2L1465.7 321.3L1466.4 322.4L1467.2 323.4L1467.9 324.5L1468.7 325.6L1469.4 326.7L1470.1 327.8L1470.9 328.9L1471.6 330.1L1472.4 331.2L1473.1 332.3L1473.9 333.5L1474.6 334.6L1475.4 335.8L1476.1 337.0L1476.9 338.1L1477.6 339.3L1478.3 340.5L1479.1 341.7L1479.8 342.9L1480.6 344.1L1481.3 345.3L1482.1 346.6L1482.8 347.8L1483.6 349.0L1484.3 350.3L1485.1 351.6L1485.8 352.8L1486.5 354.1L1487.3 355.4L1488.0 356.7L1488.8 358.0L1489.5 359.3L1490.3 360.6L1491.0 361.9L1491.8 363.2L1492.5 364.5L1493.3 365.9L1494.0 367.2L1494.7 368.6L1495.5 370.0L1496.2 371.3L1497.0 372.7L1497.7 374.1L1498.5 375.5L1499.2 376.9L1500.0 378.3L1500.7 379.7L1501.5 381.2L1502.2 382.6L1502.9 384.0L1503.7 385.5L1504.4 386.9L1505.2 388.4L1505.9 389.9L1506.7 391.4L1507.4 392.8L1508.2 394.3L1508.9 395.8L1509.7 397.4L1510.4 398.9L1511.1 400.4L1511.9 401.9L1512.6 403.5L1513.4 405.0L1514.1 406.6L1514.9 408.2L1515.6 409.7L1516.4 411.3L1517.1 412.9L1517.9 414.5L1518.6 416.1L1519.3 417.8L1520.1 419.4L1520.8 421.0L1521.6 422.7L1522.3 424.3L1523.1 426.0L1523.8 427.6L1524.6 429.3L1525.3 431.0L1526.1 432.7L1526.8 434.4L1527.5 436.1L1528.3 437.8L1529.0 439.5L1529.8 441.2L1530.5 443.0L1531.3 444.7L1532.0 446.5L1532.8 448.3L1533.5 450.0L1534.3 451.8L1535.0 453.6L1535.7 455.4L1536.5 457.2L1537.2 459.0L1538.0 460.9L1538.7 462.7L1539.5 464.5L1540.2 466.4L1541.0 468.2L1541.7 470.1L1542.5 472.0L1543.2 473.9L1543.9 475.8L1544.7 477.7L1545.4 479.6L1546.2 481.5L1546.9 483.4L1547.7 485.4L1548.4 487.3L1549.2 489.2L1549.9 491.2L1550.7 493.2L1551.4 495.2L1552.2 497.1L1552.9 499.1L1553.6 501.2L1554.4 503.2L1555.1 505.2L1555.9 507.2L1556.6 509.3L1557.4 511.3L1558.1 513.4L1558.9 515.4L1559.6 517.5L1560.4 519.6L1561.1 521.7L1561.8 523.8L1562.6 525.9L1563.3 528.0L1564.1 530.2L1564.8 532.3L1565.6 534.4L1566.3 536.6L1567.1 538.8L1567.8 540.9L1568.6 543.1L1569.3 545.3L1570.0 547.5L1570.8 549.7L1571.5 551.9L1572.3 554.2L1573.0 556.4L1573.8 558.7L1574.5 560.9L1575.3 563.2L1576.0 565.4L1576.8 567.7L1577.5 570.0L1578.2 572.3L1579.0 574.6L1579.7 577.0L1580.5 579.3L1581.2 581.6L1582.0 584.0L1582.7 586.3L1583.5 588.7L1584.2 591.1L1585.0 593.4L1585.7 595.8L1586.4 598.2L1587.2 600.7L1587.9 603.1L1588.7 605.5L1589.4 607.9L1590.2 610.4L1590.9 612.9L1591.7 615.3L1592.4 617.8L1593.2 620.3L1593.9 622.8L1594.6 625.3L1595.4 627.8L1596.1 630.3L1596.9 632.9L1597.6 635.4L1598.4 637.9L1599.1 640.5L1599.9 643.1L1600.6 645.7L1601.4 648.2L1602.1 650.8L1602.8 653.4L1603.6 656.1L1604.3 658.7L1605.1 661.3L1605.8 664.0L1606.6 666.6L1607.3 669.3L1608.1 672.0L1608.8 674.6L1609.6 677.3L1610.3 680.0L1611.0 682.7L1611.8 685.5L1612.5 688.2L1613.3 690.9L1614.0 693.7L1614.8 696.4L1615.5 699.2L1616.3 702.0L1617.0 704.8L1617.8 707.6L1618.5 710.4L1619.2 713.2L1620.0 716.0L1620.7 718.8L1621.5 721.7L1622.2 724.5L1623.0 727.4L1623.7 730.3L1624.5 733.1L1625.2 736.0L1626.0 738.9L1626.7 741.8L1627.4 744.7L1628.2 747.7L1628.9 750.6L1629.7 753.5L1630.4 756.5L1631.2 759.5L1631.9 762.4L1632.7 765.4L1633.4 768.4L1634.2 771.4L1634.9 774.4L1635.6 777.4L1636.4 780.5L1637.1 783.5L1637.9 786.5L1638.6 789.6L1639.4 792.7L1640.1 795.7L1640.9 798.8L1641.6 801.9L1642.4 805.0L1643.1 808.1L1643.8 811.2L1644.6 814.4L1645.3 817.5L1646.1 820.7L1646.8 823.8L1647.6 827.0L1648.3 830.2L1649.1 833.3L1649.8 836.5L1650.6 839.7L1651.3 842.9L1652.0 846.2L1652.8 849.4L1653.5 852.6L1654.3 855.9L1655.0 859.1L1655.8 862.4L1656.5 865.7L1657.3 868.9L1658.0 872.2L1658.8 875.5L1659.5 878.8L1660.2 882.2L1661.0 885.5L1661.7 888.8L1662.5 892.2L1663.2 895.5L1664.0 898.9L1664.7 902.2L1665.5 905.6L1666.2 909.0L1667.0 912.4L1667.7 915.8L1668.4 919.2L1669.2 922.6L1669.9 926.1L1670.7 929.5L1671.4 932.9L1672.2 936.4L1672.9 939.9L1673.7 943.3L1674.4 946.8L1675.2 950.3L1675.9 953.8L1676.6 957.3L1677.4 960.8L1678.1 964.3L1678.9 967.8L1679.6 971.4L1680.4 974.9L1681.1 978.5L1681.9 982.0L1682.6 985.6L1683.4 989.2L1684.1 992.8L1684.8 996.3L1685.6 999.9L1686.3 1003.6L1687.1 1007.2L1687.8 1010.8L1688.6 1014.4L1689.3 1018.1L1690.1 1021.7L1690.8 1025.4L1691.6 1029.0L1692.3 1032.7L1693.0 1036.4L1693.8 1040.0L1694.5 1043.7L1695.3 1047.4L1696.0 1051.1L1696.8 1054.8L1697.5 1058.6L1698.3 1062.3L1699.0 1066.0L1699.8 1069.8L1700.5 1073.5L1701.2 1077.3L1702.0 1081.0L1702.7 1084.8L1703.5 1088.6L1704.2 1092.3L1705.0 1096.1L1705.7 1099.9L1706.5 1103.7L1707.2 1107.5L1708.0 1111.3L1708.7 1115.2L1709.4 1119.0L1710.2 1122.8L1710.9 1126.7L1711.7 1130.5L1712.4 1134.3L1713.2 1138.2L1713.9 1142.1L1714.7 1145.9L1715.4 1149.8L1716.2 1153.7L1716.9 1157.6L1717.7 1161.5L1718.4 1165.4L1719.1 1169.3L1719.9 1173.2L1720.6 1177.1L1721.4 1181.0L1722.1 1184.9L1722.9 1188.9L1723.6 1192.8L1724.4 1196.8L1725.1 1200.7L1725.9 1204.6L1726.6 1208.6L1727.3 1212.6L1728.1 1216.5L1728.8 1220.5L1729.6 1224.5L1730.3 1228.5L1731.1 1232.4L1731.8 1236.4L1732.6 1240.4L1733.3 1244.4L1734.1 1248.4L1734.8 1252.4L1735.5 1256.4L1736.3 1260.5L1737.1 1264.5L1737.9 1268.5L1738.8 1272.5L1739.6 1276.6L1740.4 1280.6L1741.3 1284.6L1741.8 1288.7L1742.4 1292.7L1742.9 1296.8L1743.5 1300.8L1744.0 1304.9L1744.9 1308.9L1745.9 1313.0L1746.9 1317.0L1747.9 1321.1L1748.8 1325.2L1749.3 1329.3L1749.8 1333.3L1750.4 1337.4L1750.9 1341.5L1751.5 1345.6L1752.4 1349.7L1753.4 1353.7L1754.4 1357.8L1755.4 1361.9L1756.2 1366.0L1756.8 1370.1L1757.3 1374.2L1757.9 1378.3L1758.5 1382.4L1759.1 1386.5L1760.0 1390.6L1760.9 1394.7L1761.8 1398.8L1762.7 1402.9L1763.1 1407.0L1763.9 1411.1L1764.6 1415.2L1765.4 1419.3L1766.1 1423.4L1766.9 1427.6L1767.6 1431.7L1768.3 1435.8L1769.1 1439.9L1769.8 1444.0L1770.6 1448.1L1771.3 1452.2" stroke="#A2142F"/>
<path d="M1399.3 255.5L1400.0 256.2L1400.7 256.8L1401.3 257.4L1402.0 258.1L1402.7 258.7L1403.4 259.4L1404.0 260.0L1404.7 260.6L1405.4 261.3L1406.1 261.9L1406.7 262.6L1407.4 263.2L1408.1 263.8L1408.7 264.5L1409.4 265.1L1410.1 265.7L1410.8 266.4L1411.4 267.0L1412.1 267.6L1412.8 268.3L1413.5 268.9L1414.1 269.6L1414.8 270.2L1415.5 270.8L1416.1 271.5L1416.8 272.1L1417.5 272.8L1418.2 273.4L1418.8 274.1L1419.5 274.7L1420.2 275.4L1420.9 276.0L1421.5 276.7L1422.2 277.3L1422.9 278.0L1423.5 278.7L1424.2 279.3L1424.9 280.0L1425.6 280.7L1426.2 281.3L1426.9 282.0L1427.6 282.7L1428.3 283.4L1428.9 284.1L1429.6 284.8L1430.3 285.4L1430.9 286.1L1431.6 286.8L1432.3 287.5L1433.0 288.3L1433.6 289.0L1434.3 289.7L1435.0 290.4L1435.7 291.1L1436.3 291.8L1437.0 292.6L1437.7 293.3L1438.3 294.1L1439.0 294.8L1439.7 295.5L1440.4 296.3L1441.0 297.1L1441.7 297.8L1442.4 298.6L1443.1 299.4L1443.7 300.1L1444.4 300.9L1445.1 301.7L1445.7 302.5L1446.4 303.3L1447.1 304.1L1447.8 304.9L1448.4 305.7L1449.1 306.6L1449.8 307.4L1450.5 308.2L1451.1 309.1L1451.8 309.9L1452.5 310.8L1453.1 311.6L1453.8 312.5L1454.5 313.3L1455.2 314.2L1455.8 315.1L1456.5 316.0L1457.2 316.9L1457.9 317.8L1458.5 318.7L1459.2 319.6L1459.9 320.5L1460.5 321.4L1461.2 322.4L1461.9 323.3L1462.6 324.3L1463.2 325.2L1463.9 326.2L1464.6 327.1L1465.3 328.1L1465.9 329.1L1466.6 330.1L1467.3 331.1L1467.9 332.1L1468.6 333.1L1469.3 334.1L1470.0 335.2L1470.6 336.2L1471.3 337.2L1472.0 338.3L1472.7 339.3L1473.3 340.4L1474.0 341.5L1474.7 342.5L1475.3 343.6L1476.0 344.7L1476.7 345.8L1477.4 346.9L1478.0 348.0L1478.7 349.2L1479.4 350.3L1480.1 351.4L1480.7 352.6L1481.4 353.8L1482.1 354.9L1482.7 356.1L1483.4 357.3L1484.1 358.5L1484.8 359.7L1485.4 360.9L1486.1 362.1L1486.8 363.3L1487.5 364.5L1488.1 365.8L1488.8 367.0L1489.5 368.3L1490.1 369.5L1490.8 370.8L1491.5 372.1L1492.2 373.4L1492.8 374.7L1493.5 376.0L1494.2 377.3L1494.9 378.6L1495.5 380.0L1496.2 381.3L1496.9 382.6L1497.5 384.0L1498.2 385.4L1498.9 386.7L1499.6 388.1L1500.2 389.5L1500.9 390.9L1501.6 392.3L1502.3 393.8L1502.9 395.2L1503.6 396.6L1504.3 398.1L1504.9 399.5L1505.6 401.0L1506.3 402.5L1507.0 403.9L1507.6 405.4L1508.3 406.9L1509.0 408.4L1509.7 410.0L1510.3 411.5L1511.0 413.0L1511.7 414.6L1512.3 416.1L1513.0 417.7L1513.7 419.3L1514.4 420.8L1515.0 422.4L1515.7 424.0L1516.4 425.6L1517.1 427.2L1517.7 428.9L1518.4 430.5L1519.1 432.2L1519.7 433.8L1520.4 435.5L1521.1 437.1L1521.8 438.8L1522.4 440.5L1523.1 442.2L1523.8 443.9L1524.5 445.6L1525.1 447.4L1525.8 449.1L1526.5 450.8L1527.1 452.6L1527.8 454.4L1528.5 456.1L1529.2 457.9L1529.8 459.7L1530.5 461.5L1531.2 463.3L1531.9 465.1L1532.5 467.0L1533.2 468.8L1533.9 470.6L1534.5 472.5L1535.2 474.4L1535.9 476.2L1536.6 478.1L1537.2 480.0L1537.9 481.9L1538.6 483.8L1539.3 485.7L1539.9 487.7L1540.6 489.6L1541.3 491.5L1541.9 493.5L1542.6 495.5L1543.3 497.4L1544.0 499.4L1544.6 501.4L1545.3 503.4L1546.0 505.4L1546.7 507.5L1547.3 509.5L1548.0 511.5L1548.7 513.6L1549.3 515.6L1550.0 517.7L1550.7 519.8L1551.4 521.9L1552.0 523.9L1552.7 526.0L1553.4 528.2L1554.1 530.3L1554.7 532.4L1555.4 534.6L1556.1 536.7L1556.7 538.9L1557.4 541.0L1558.1 543.2L1558.8 545.4L1559.4 547.6L1560.1 549.8L1560.8 552.0L1561.5 554.2L1562.1 556.5L1562.8 558.7L1563.5 560.9L1564.1 563.2L1564.8 565.5L1565.5 567.7L1566.2 570.0L1566.8 572.3L1567.5 574.6L1568.2 576.9L1568.9 579.3L1569.5 581.6L1570.2 583.9L1570.9 586.3L1571.5 588.6L1572.2 591.0L1572.9 593.4L1573.6 595.8L1574.2 598.2L1574.9 600.6L1575.6 603.0L1576.3 605.4L1576.9 607.8L1577.6 610.3L1578.3 612.7L1578.9 615.2L1579.6 617.7L1580.3 620.1L1581.0 622.6L1581.6 625.1L1582.3 627.6L1583.0 630.1L1583.7 632.6L1584.3 635.2L1585.0 637.7L1585.7 640.3L1586.3 642.8L1587.0 645.4L1587.7 648.0L1588.4 650.5L1589.0 653.1L1589.7 655.7L1590.4 658.4L1591.1 661.0L1591.7 663.6L1592.4 666.2L1593.1 668.9L1593.7 671.5L1594.4 674.2L1595.1 676.9L1595.8 679.6L1596.4 682.3L1597.1 685.0L1597.8 687.7L1598.5 690.4L1599.1 693.1L1599.8 695.9L1600.5 698.6L1601.1 701.4L1601.8 704.1L1602.5 706.9L1603.2 709.7L1603.8 712.5L1604.5 715.3L1605.2 718.1L1605.9 720.9L1606.5 723.7L1607.2 726.6L1607.9 729.4L1608.5 732.3L1609.2 735.1L1609.9 738.0L1610.6 740.9L1611.2 743.8L1611.9 746.7L1612.6 749.6L1613.3 752.5L1613.9 755.5L1614.6 758.4L1615.3 761.3L1615.9 764.3L1616.6 767.3L1617.3 770.2L1618.0 773.2L1618.6 776.2L1619.3 779.2L1620.0 782.2L1620.7 785.3L1621.3 788.3L1622.0 791.3L1622.7 794.4L1623.3 797.4L1624.0 800.5L1624.7 803.6L1625.4 806.7L1626.0 809.8L1626.7 812.9L1627.4 816.0L1628.1 819.1L1628.7 822.2L1629.4 825.4L1630.1 828.5L1630.7 831.7L1631.4 834.9L1632.1 838.1L1632.8 841.3L1633.4 844.5L1634.1 847.7L1634.8 850.9L1635.5 854.1L1636.1 857.4L1636.8 860.6L1637.5 863.9L1638.1 867.1L1638.8 870.4L1639.5 873.7L1640.2 877.0L1640.8 880.3L1641.5 883.6L1642.2 887.0L1642.9 890.3L1643.5 893.6L1644.2 897.0L1644.9 900.4L1645.6 903.8L1646.2 907.1L1646.9 910.5L1647.6 914.0L1648.2 917.4L1648.9 920.8L1649.6 924.2L1650.3 927.7L1650.9 931.2L1651.6 934.6L1652.3 938.1L1653.0 941.6L1653.6 945.1L1654.3 948.6L1655.0 952.1L1655.6 955.7L1656.3 959.2L1657.0 962.8L1657.7 966.4L1658.3 969.9L1659.0 973.5L1659.7 977.1L1660.4 980.7L1661.0 984.4L1661.7 988.0L1662.4 991.6L1663.0 995.3L1663.7 999.0L1664.4 1002.6L1665.1 1006.3L1665.7 1010.0L1666.4 1013.7L1667.1 1017.5L1667.8 1021.2L1668.4 1024.9L1669.1 1028.7L1669.8 1032.5L1670.4 1036.3L1671.1 1040.1L1671.8 1043.9L1672.5 1047.7L1673.1 1051.5L1673.8 1055.3L1674.5 1059.2L1675.2 1063.1L1675.8 1066.9L1676.5 1070.8L1677.2 1074.7L1677.8 1078.7L1678.5 1082.6L1679.2 1086.5L1679.9 1090.5L1680.5 1094.4L1681.2 1098.4L1681.9 1102.4L1682.6 1106.4L1683.2 1110.4L1683.9 1114.5L1684.6 1118.5L1685.2 1122.6L1685.9 1126.6L1686.6 1130.7L1687.3 1134.8L1687.9 1138.9L1688.6 1143.1L1689.3 1147.2L1690.0 1151.4L1690.6 1155.5L1691.3 1159.7L1692.0 1163.9L1692.6 1168.1L1693.3 1172.3L1694.0 1176.6L1694.7 1180.8L1695.3 1185.1L1696.0 1189.4L1696.7 1193.7L1697.4 1198.0L1698.0 1202.3L1698.7 1206.6L1699.4 1211.0L1700.0 1215.4L1700.7 1219.7L1701.4 1224.1L1702.1 1228.6L1702.7 1233.0L1703.4 1237.4L1704.1 1241.9L1704.8 1246.4L1705.4 1250.9L1706.1 1255.4L1706.8 1259.9L1707.4 1264.4L1708.1 1269.0L1708.8 1273.6L1709.5 1278.2L1710.1 1282.8L1710.8 1287.4L1711.5 1292.0L1712.2 1296.7L1712.8 1301.4L1713.5 1306.1L1714.2 1310.8L1714.8 1315.5L1715.5 1320.3L1716.2 1325.0L1716.9 1329.8L1717.5 1334.6L1718.2 1339.4L1718.9 1344.3L1719.6 1349.1L1720.2 1354.0L1720.9 1358.9L1721.6 1363.8L1722.2 1368.7L1722.9 1373.7L1723.6 1378.6L1724.3 1383.6L1724.9 1388.6L1725.6 1393.7L1726.3 1398.7L1727.0 1403.8L1727.6 1408.9L1728.3 1414.0L1729.0 1419.1L1729.6 1424.2L1730.3 1429.4L1731.0 1434.6L1731.7 1439.8L1732.3 1445.0L1733.0 1450.3L1733.7 1455.5L1734.4 1460.8L1735.0 1466.2" stroke="#77AC30"/>
<path d="M1399.3 257.2L1400.0 257.7L1400.6 258.2L1401.3 258.7L1402.0 259.3L1402.6 259.8L1403.3 260.3L1404.0 260.8L1404.6 261.4L1405.3 261.9L1405.9 262.5L1406.6 263.0L1407.3 263.6L1407.9 264.1L1408.6 264.7L1409.3 265.2L1409.9 265.8L1410.6 266.4L1411.2 266.9L1411.9 267.5L1412.6 268.1L1413.2 268.7L1413.9 269.3L1414.6 269.9L1415.2 270.5L1415.9 271.1L1416.5 271.7L1417.2 272.3L1417.9 273.0L1418.5 273.6L1419.2 274.2L1419.8 274.9L1420.5 275.5L1421.2 276.2L1421.8 276.8L1422.5 277.5L1423.2 278.1L1423.8 278.8L1424.5 279.5L1425.1 280.1L1425.8 280.8L1426.5 281.5L1427.1 282.2L1427.8 282.9L1428.5 283.6L1429.1 284.3L1429.8 285.0L1430.4 285.8L1431.1 286.5L1431.8 287.2L1432.4 287.9L1433.1 288.7L1433.8 289.4L1434.4 290.2L1435.1 290.9L1435.7 291.7L1436.4 292.5L1437.1 293.2L1437.7 294.0L1438.4 294.8L1439.1 295.6L1439.7 296.4L1440.4 297.2L1441.0 298.0L1441.7 298.8L1442.4 299.6L1443.0 300.5L1443.7 301.3L1444.3 302.1L1445.0 303.0L1445.7 303.8L1446.3 304.7L1447.0 305.5L1447.7 306.4L1448.3 307.3L1449.0 308.2L1449.6 309.0L1450.3 309.9L1451.0 310.8L1451.6 311.7L1452.3 312.6L1453.0 313.5L1453.6 314.5L1454.3 315.4L1454.9 316.3L1455.6 317.3L1456.3 318.2L1456.9 319.2L1457.6 320.1L1458.3 321.1L1458.9 322.1L1459.6 323.0L1460.2 324.0L1460.9 325.0L1461.6 326.0L1462.2 327.0L1462.9 328.0L1463.5 329.1L1464.2 330.1L1464.9 331.1L1465.5 332.1L1466.2 333.2L1466.9 334.2L1467.5 335.3L1468.2 336.4L1468.8 337.4L1469.5 338.5L1470.2 339.6L1470.8 340.7L1471.5 341.8L1472.2 342.9L1472.8 344.0L1473.5 345.1L1474.1 346.2L1474.8 347.4L1475.5 348.5L1476.1 349.7L1476.8 350.8L1477.5 352.0L1478.1 353.1L1478.8 354.3L1479.4 355.5L1480.1 356.7L1480.8 357.9L1481.4 359.1L1482.1 360.3L1482.8 361.5L1483.4 362.7L1484.1 364.0L1484.7 365.2L1485.4 366.5L1486.1 367.7L1486.7 369.0L1487.4 370.2L1488.0 371.5L1488.7 372.8L1489.4 374.1L1490.0 375.4L1490.7 376.7L1491.4 378.0L1492.0 379.3L1492.7 380.7L1493.3 382.0L1494.0 383.3L1494.7 384.7L1495.3 386.0L1496.0 387.4L1496.7 388.8L1497.3 390.2L1498.0 391.5L1498.6 392.9L1499.3 394.4L1500.0 395.8L1500.6 397.2L1501.3 398.6L1502.0 400.0L1502.6 401.5L1503.3 402.9L1503.9 404.4L1504.6 405.9L1505.3 407.3L1505.9 408.8L1506.6 410.3L1507.3 411.8L1507.9 413.3L1508.6 414.8L1509.2 416.4L1509.9 417.9L1510.6 419.4L1511.2 421.0L1511.9 422.5L1512.5 424.1L1513.2 425.7L1513.9 427.2L1514.5 428.8L1515.2 430.4L1515.9 432.0L1516.5 433.6L1517.2 435.2L1517.8 436.9L1518.5 438.5L1519.2 440.2L1519.8 441.8L1520.5 443.5L1521.2 445.1L1521.8 446.8L1522.5 448.5L1523.1 450.2L1523.8 451.9L1524.5 453.6L1525.1 455.3L1525.8 457.1L1526.5 458.8L1527.1 460.5L1527.8 462.3L1528.4 464.1L1529.1 465.8L1529.8 467.6L1530.4 469.4L1531.1 471.2L1531.7 473.0L1532.4 474.8L1533.1 476.6L1533.7 478.5L1534.4 480.3L1535.1 482.1L1535.7 484.0L1536.4 485.9L1537.0 487.7L1537.7 489.6L1538.4 491.5L1539.0 493.4L1539.7 495.3L1540.4 497.2L1541.0 499.2L1541.7 501.1L1542.3 503.0L1543.0 505.0L1543.7 507.0L1544.3 508.9L1545.0 510.9L1545.7 512.9L1546.3 514.9L1547.0 516.9L1547.6 518.9L1548.3 520.9L1549.0 523.0L1549.6 525.0L1550.3 527.1L1551.0 529.1L1551.6 531.2L1552.3 533.3L1552.9 535.4L1553.6 537.5L1554.3 539.6L1554.9 541.7L1555.6 543.8L1556.2 545.9L1556.9 548.1L1557.6 550.2L1558.2 552.4L1558.9 554.6L1559.6 556.7L1560.2 558.9L1560.9 561.1L1561.5 563.3L1562.2 565.6L1562.9 567.8L1563.5 570.0L1564.2 572.3L1564.9 574.5L1565.5 576.8L1566.2 579.0L1566.8 581.3L1567.5 583.6L1568.2 585.9L1568.8 588.2L1569.5 590.6L1570.2 592.9L1570.8 595.2L1571.5 597.6L1572.1 599.9L1572.8 602.3L1573.5 604.7L1574.1 607.1L1574.8 609.5L1575.4 611.9L1576.1 614.3L1576.8 616.7L1577.4 619.1L1578.1 621.6L1578.8 624.0L1579.4 626.5L1580.1 629.0L1580.7 631.5L1581.4 634.0L1582.1 636.5L1582.7 639.0L1583.4 641.5L1584.1 644.0L1584.7 646.6L1585.4 649.1L1586.0 651.7L1586.7 654.2L1587.4 656.8L1588.0 659.4L1588.7 662.0L1589.4 664.6L1590.0 667.3L1590.7 669.9L1591.3 672.5L1592.0 675.2L1592.7 677.8L1593.3 680.5L1594.0 683.2L1594.7 685.9L1595.3 688.6L1596.0 691.3L1596.6 694.0L1597.3 696.7L1598.0 699.5L1598.6 702.2L1599.3 705.0L1599.9 707.8L1600.6 710.5L1601.3 713.3L1601.9 716.1L1602.6 719.0L1603.3 721.8L1603.9 724.6L1604.6 727.4L1605.2 730.3L1605.9 733.2L1606.6 736.0L1607.2 738.9L1607.9 741.8L1608.6 744.7L1609.2 747.6L1609.9 750.6L1610.5 753.5L1611.2 756.4L1611.9 759.4L1612.5 762.4L1613.2 765.3L1613.9 768.3L1614.5 771.3L1615.2 774.3L1615.8 777.4L1616.5 780.4L1617.2 783.4L1617.8 786.5L1618.5 789.5L1619.2 792.6L1619.8 795.7L1620.5 798.8L1621.1 801.9L1621.8 805.0L1622.5 808.1L1623.1 811.3L1623.8 814.4L1624.4 817.6L1625.1 820.7L1625.8 823.9L1626.4 827.1L1627.1 830.3L1627.8 833.5L1628.4 836.7L1629.1 839.9L1629.7 843.2L1630.4 846.4L1631.1 849.7L1631.7 853.0L1632.4 856.3L1633.1 859.6L1633.7 862.9L1634.4 866.2L1635.0 869.5L1635.7 872.9L1636.4 876.2L1637.0 879.6L1637.7 882.9L1638.4 886.3L1639.0 889.7L1639.7 893.1L1640.3 896.5L1641.0 900.0L1641.7 903.4L1642.3 906.8L1643.0 910.3L1643.6 913.8L1644.3 917.3L1645.0 920.8L1645.6 924.3L1646.3 927.8L1647.0 931.3L1647.6 934.8L1648.3 938.4L1648.9 941.9L1649.6 945.5L1650.3 949.1L1650.9 952.7L1651.6 956.3L1652.3 959.9L1652.9 963.5L1653.6 967.2L1654.2 970.8L1654.9 974.5L1655.6 978.2L1656.2 981.9L1656.9 985.5L1657.6 989.3L1658.2 993.0L1658.9 996.7L1659.5 1000.4L1660.2 1004.2L1660.9 1008.0L1661.5 1011.7L1662.2 1015.5L1662.9 1019.3L1663.5 1023.1L1664.2 1027.0L1664.8 1030.8L1665.5 1034.6L1666.2 1038.5L1666.8 1042.4L1667.5 1046.2L1668.1 1050.1L1668.8 1054.0L1669.5 1057.9L1670.1 1061.9L1670.8 1065.8L1671.5 1069.8L1672.1 1073.7L1672.8 1077.7L1673.4 1081.7L1674.1 1085.7L1674.8 1089.7L1675.4 1093.7L1676.1 1097.7L1676.8 1101.8L1677.4 1105.8L1678.1 1109.9L1678.7 1114.0L1679.4 1118.1L1680.1 1122.2L1680.7 1126.3L1681.4 1130.4L1682.1 1134.5L1682.7 1138.7L1683.4 1142.9L1684.0 1147.0L1684.7 1151.2L1685.4 1155.4L1686.0 1159.6L1686.7 1163.8L1687.3 1168.1L1688.0 1172.3L1688.7 1176.6L1689.3 1180.9L1690.0 1185.1L1690.7 1189.4L1691.3 1193.7L1692.0 1198.1L1692.6 1202.4L1693.3 1206.7L1694.0 1211.1L1694.6 1215.5L1695.3 1219.8L1696.0 1224.2L1696.6 1228.6L1697.3 1233.1L1697.9 1237.5L1698.6 1241.9L1699.3 1246.4L1699.9 1250.9L1700.6 1255.3L1701.3 1259.8L1701.9 1264.3L1702.6 1268.8L1703.2 1273.4L1703.9 1277.9L1704.6 1282.5L1705.2 1287.0L1705.9 1291.6L1706.6 1296.2L1707.2 1300.8L1707.9 1305.4L1708.5 1310.1L1709.2 1314.7L1709.9 1319.4L1710.5 1324.0L1711.2 1328.7L1711.8 1333.4L1712.5 1338.1L1713.2 1342.8L1713.8 1347.6L1714.5 1352.3L1715.2 1357.1L1715.8 1361.8L1716.5 1366.6L1717.1 1371.4L1717.8 1376.2L1718.5 1381.0L1719.1 1385.9L1719.8 1390.7L1720.5 1395.6L1721.1 1400.5L1721.8 1405.3L1722.4 1410.2L1723.1 1415.1L1723.8 1420.1L1724.4 1425.0L1725.1 1430.0L1725.8 1434.9L1726.4 1439.9L1727.1 1444.9L1727.7 1449.9L1728.4 1454.9L1729.1 1460.0L1729.7 1465.0" stroke="#4DBEEE"/>
</g>
<g>
<text transform="translate(160.50 1460.50) scale(0.91 1)" font-size="45" text-anchor="middle">-3</text>
<text transform="translate(317.67 1460.50) scale(0.91 1)" font-size="45" text-anchor="middle">-2</text>
<text transform="translate(471.83 1460.50) scale(0.91 1)" font-size="45" text-anchor="middle">-1</text>
<text transform="translate(632.00 1460.50) scale(0.91 1)" font-size="45" text-anchor="middle">0</text>
<text transform="translate(786.67 1460.50) scale(0.91 1)" font-size="45" text-anchor="middle">1</text>
<text transform="translate(946.33 1460.50) scale(0.91 1)" font-size="45" text-anchor="middle">2</text>
<text transform="translate(1103.50 1460.50) scale(0.91 1)" font-size="45" text-anchor="middle">3</text>
<text transform="translate(141.30 1417.90) scale(0.91 1)" font-size="45" text-anchor="end">0</text>
<text transform="translate(137.30 1212.58) scale(0.91 1)" font-size="45" text-anchor="end">0.1</text>
<text transform="translate(141.30 1007.25) scale(0.91 1)" font-size="45" text-anchor="end">0.2</text>
<text transform="translate(141.30 801.93) scale(0.91 1)" font-size="45" text-anchor="end">0.3</text>
<text transform="translate(141.30 596.61) scale(0.91 1)" font-size="45" text-anchor="end">0.4</text>
<text transform="translate(141.30 391.29) scale(0.91 1)" font-size="45" text-anchor="end">0.5</text>
<text transform="translate(141.30 185.96) scale(0.91 1)" font-size="45" text-anchor="end">0.6</text>
<text transform="translate(1459.27 1460.50) scale(0.91 1)" font-size="45" text-anchor="middle">0</text>
<text transform="translate(1753.11 1460.50) scale(0.91 1)" font-size="45" text-anchor="middle">5</text>
<text transform="translate(2046.96 1460.50) scale(0.91 1)" font-size="45" text-anchor="middle">10</text>
<text transform="translate(2340.80 1460.50) scale(0.91 1)" font-size="45" text-anchor="middle">15</text>
<text transform="translate(1381.30 144.90) scale(0.91 1)" font-size="45" text-anchor="end">0</text>
<text transform="translate(1377.30 260.63) scale(0.91 1)" font-size="45" text-anchor="end">-1</text>
<text transform="translate(1381.30 376.35) scale(0.91 1)" font-size="45" text-anchor="end">-2</text>
<text transform="translate(1381.30 492.08) scale(0.91 1)" font-size="45" text-anchor="end">-3</text>
<text transform="translate(1381.30 607.81) scale(0.91 1)" font-size="45" text-anchor="end">-4</text>
<text transform="translate(1381.30 723.54) scale(0.91 1)" font-size="45" text-anchor="end">-5</text>
<text transform="translate(1381.30 839.26) scale(0.91 1)" font-size="45" text-anchor="end">-6</text>
<text transform="translate(1381.30 954.99) scale(0.91 1)" font-size="45" text-anchor="end">-7</text>
<text transform="translate(1381.30 1070.72) scale(0.91 1)" font-size="45" text-anchor="end">-8</text>
<text transform="translate(1381.30 1186.45) scale(0.91 1)" font-size="45" text-anchor="end">-9</text>
<text transform="translate(1381.30 1302.17) scale(0.91 1)" font-size="45" text-anchor="end">-10</text>
<text transform="translate(1377.30 1417.90) scale(0.91 1)" font-size="45" text-anchor="end">-11</text>
</g>
<text class="m" transform="translate(0.00 1521.00)" style="fill:#262626;stroke:#262626;stroke-width:0.3"><tspan x="621.01" y="0.00" font-size="52.2" font-style="italic" textLength="24.52" lengthAdjust="spacingAndGlyphs">z</tspan></text>
<text class="m" transform="translate(0.00 1521.00)" style="fill:#262626;stroke:#262626;stroke-width:0.3"><tspan x="1799.04" y="0.00" font-size="55.5" font-style="italic" textLength="17.00" lengthAdjust="spacingAndGlyphs">l</tspan><tspan x="1817.64" y="0.00" font-size="52.2" font-style="italic" textLength="27.81" lengthAdjust="spacingAndGlyphs">o</tspan><tspan x="1844.17" y="0.00" font-size="52.2" font-style="italic" textLength="28.18" lengthAdjust="spacingAndGlyphs">g</tspan><tspan x="1874.87" y="0.90" font-size="61.2" textLength="17.63" lengthAdjust="spacingAndGlyphs">(</tspan><tspan x="1896.07" y="0.00" font-size="52.2" font-style="italic" textLength="23.32" lengthAdjust="spacingAndGlyphs">z</tspan><tspan x="1921.51" y="0.90" font-size="61.2" textLength="17.50" lengthAdjust="spacingAndGlyphs">)</tspan></text>
<text class="m" transform="translate(52.90 0.00) rotate(-90)" style="fill:#262626;stroke:#262626;stroke-width:0.3"><tspan x="-825.49" y="0.00" font-size="54.0" font-style="italic" textLength="19.50" lengthAdjust="spacingAndGlyphs">f</tspan><tspan x="-800.15" y="7.80" font-size="40.5" font-style="italic" textLength="25.28" lengthAdjust="spacingAndGlyphs">Z</tspan><tspan x="-766.89" y="0.90" font-size="61.2" textLength="17.37" lengthAdjust="spacingAndGlyphs">(</tspan><tspan x="-745.63" y="0.00" font-size="52.2" font-style="italic" textLength="23.22" lengthAdjust="spacingAndGlyphs">z</tspan><tspan x="-720.21" y="0.90" font-size="61.2" textLength="16.60" lengthAdjust="spacingAndGlyphs">)</tspan></text>
<text class="m" transform="translate(1290.80 0.00) rotate(-90)" style="fill:#262626;stroke:#262626;stroke-width:0.3"><tspan x="-937.41" y="0.00" font-size="55.5" font-style="italic" textLength="17.28" lengthAdjust="spacingAndGlyphs">l</tspan><tspan x="-918.73" y="0.00" font-size="52.2" font-style="italic" textLength="27.36" lengthAdjust="spacingAndGlyphs">o</tspan><tspan x="-890.53" y="0.00" font-size="52.2" font-style="italic" textLength="26.90" lengthAdjust="spacingAndGlyphs">g</tspan><tspan x="-861.28" y="0.90" font-size="61.2" textLength="18.02" lengthAdjust="spacingAndGlyphs">(</tspan><tspan x="-843.29" y="0.00" font-size="54.5" textLength="26.13" lengthAdjust="spacingAndGlyphs">1</tspan><tspan x="-802.34" y="3.50" font-size="54.0" textLength="40.12" lengthAdjust="spacingAndGlyphs">−</tspan><tspan x="-747.26" y="0.00" font-size="57.9" font-style="italic" textLength="38.44" lengthAdjust="spacingAndGlyphs">F</tspan><tspan x="-713.25" y="7.30" font-size="40.5" font-style="italic" textLength="25.08" lengthAdjust="spacingAndGlyphs">Z</tspan><tspan x="-680.52" y="0.90" font-size="61.2" textLength="16.86" lengthAdjust="spacingAndGlyphs">(</tspan><tspan x="-659.88" y="0.00" font-size="52.2" font-style="italic" textLength="24.82" lengthAdjust="spacingAndGlyphs">z</tspan><tspan x="-633.01" y="0.90" font-size="61.2" textLength="15.56" lengthAdjust="spacingAndGlyphs">)</tspan><tspan x="-612.29" y="0.90" font-size="61.2" textLength="16.47" lengthAdjust="spacingAndGlyphs">)</tspan></text>
<rect x="498.5" y="11.5" width="1629.0" height="76.0" fill="#fff" stroke="#262626" stroke-width="3"/>
<path d="M510.0 48.5h125.8" stroke="#0072BD" stroke-width="5.5" fill="none" shape-rendering="crispEdges"/>
<text class="m" transform="translate(0.00 62.10)" style="fill:#000;stroke:#000;stroke-width:0.3"><tspan x="644.93" y="0.00" font-size="52.2" font-style="italic" textLength="33.93" lengthAdjust="spacingAndGlyphs">n</tspan><tspan x="679.57" y="7.90" font-size="40.5" font-style="italic" textLength="23.65" lengthAdjust="spacingAndGlyphs">Y</tspan><tspan x="725.29" y="3.50" font-size="54.0" textLength="44.24" lengthAdjust="spacingAndGlyphs">=</tspan><tspan x="783.03" y="0.00" font-size="56.3" textLength="28.55" lengthAdjust="spacingAndGlyphs">0</tspan><tspan x="810.81" y="0.00" font-size="56.3" textLength="14.39" lengthAdjust="spacingAndGlyphs">.</tspan><tspan x="825.34" y="0.00" font-size="56.3" textLength="28.05" lengthAdjust="spacingAndGlyphs">5</tspan></text>
<path d="M868.2 48.5h125.8" stroke="#EDB120" stroke-width="5.5" fill="none" shape-rendering="crispEdges"/>
<text class="m" transform="translate(0.00 62.10)" style="fill:#000;stroke:#000;stroke-width:0.3"><tspan x="1003.13" y="0.00" font-size="52.2" font-style="italic" textLength="33.93" lengthAdjust="spacingAndGlyphs">n</tspan><tspan x="1037.77" y="7.90" font-size="40.5" font-style="italic" textLength="23.65" lengthAdjust="spacingAndGlyphs">Y</tspan><tspan x="1083.49" y="3.50" font-size="54.0" textLength="44.24" lengthAdjust="spacingAndGlyphs">=</tspan><tspan x="1140.85" y="0.00" font-size="56.3" textLength="29.06" lengthAdjust="spacingAndGlyphs">2</tspan></text>
<path d="M1183.0 48.5h125.8" stroke="#A2142F" stroke-width="5.5" fill="none" shape-rendering="crispEdges"/>
<text class="m" transform="translate(0.00 62.10)" style="fill:#000;stroke:#000;stroke-width:0.3"><tspan x="1317.93" y="0.00" font-size="52.2" font-style="italic" textLength="33.93" lengthAdjust="spacingAndGlyphs">n</tspan><tspan x="1352.57" y="7.90" font-size="40.5" font-style="italic" textLength="23.65" lengthAdjust="spacingAndGlyphs">Y</tspan><tspan x="1398.29" y="3.50" font-size="54.0" textLength="44.24" lengthAdjust="spacingAndGlyphs">=</tspan><tspan x="1455.50" y="0.00" font-size="56.3" textLength="28.20" lengthAdjust="spacingAndGlyphs">3</tspan></text>
<path d="M1498.2 48.5h125.8" stroke="#77AC30" stroke-width="5.5" fill="none" shape-rendering="crispEdges"/>
<text class="m" transform="translate(0.00 62.10)" style="fill:#000;stroke:#000;stroke-width:0.3"><tspan x="1633.13" y="0.00" font-size="52.2" font-style="italic" textLength="33.93" lengthAdjust="spacingAndGlyphs">n</tspan><tspan x="1667.77" y="7.90" font-size="40.5" font-style="italic" textLength="23.65" lengthAdjust="spacingAndGlyphs">Y</tspan><tspan x="1713.49" y="3.50" font-size="54.0" textLength="44.24" lengthAdjust="spacingAndGlyphs">=</tspan><tspan x="1771.06" y="0.00" font-size="56.3" textLength="27.27" lengthAdjust="spacingAndGlyphs">6</tspan></text>
<path d="M1813.1 48.5h125.8" stroke="#4DBEEE" stroke-width="5.5" fill="none" shape-rendering="crispEdges"/>
<text class="m" transform="translate(0.00 62.10)" style="fill:#000;stroke:#000;stroke-width:0.3"><tspan x="1948.03" y="0.00" font-size="52.2" font-style="italic" textLength="33.93" lengthAdjust="spacingAndGlyphs">n</tspan><tspan x="1982.67" y="7.90" font-size="40.5" font-style="italic" textLength="23.65" lengthAdjust="spacingAndGlyphs">Y</tspan><tspan x="2028.39" y="3.50" font-size="54.0" textLength="44.24" lengthAdjust="spacingAndGlyphs">=</tspan><tspan x="2086.21" y="0.00" font-size="56.3" textLength="27.49" lengthAdjust="spacingAndGlyphs">8</tspan></text>
</svg>
</body></html>
